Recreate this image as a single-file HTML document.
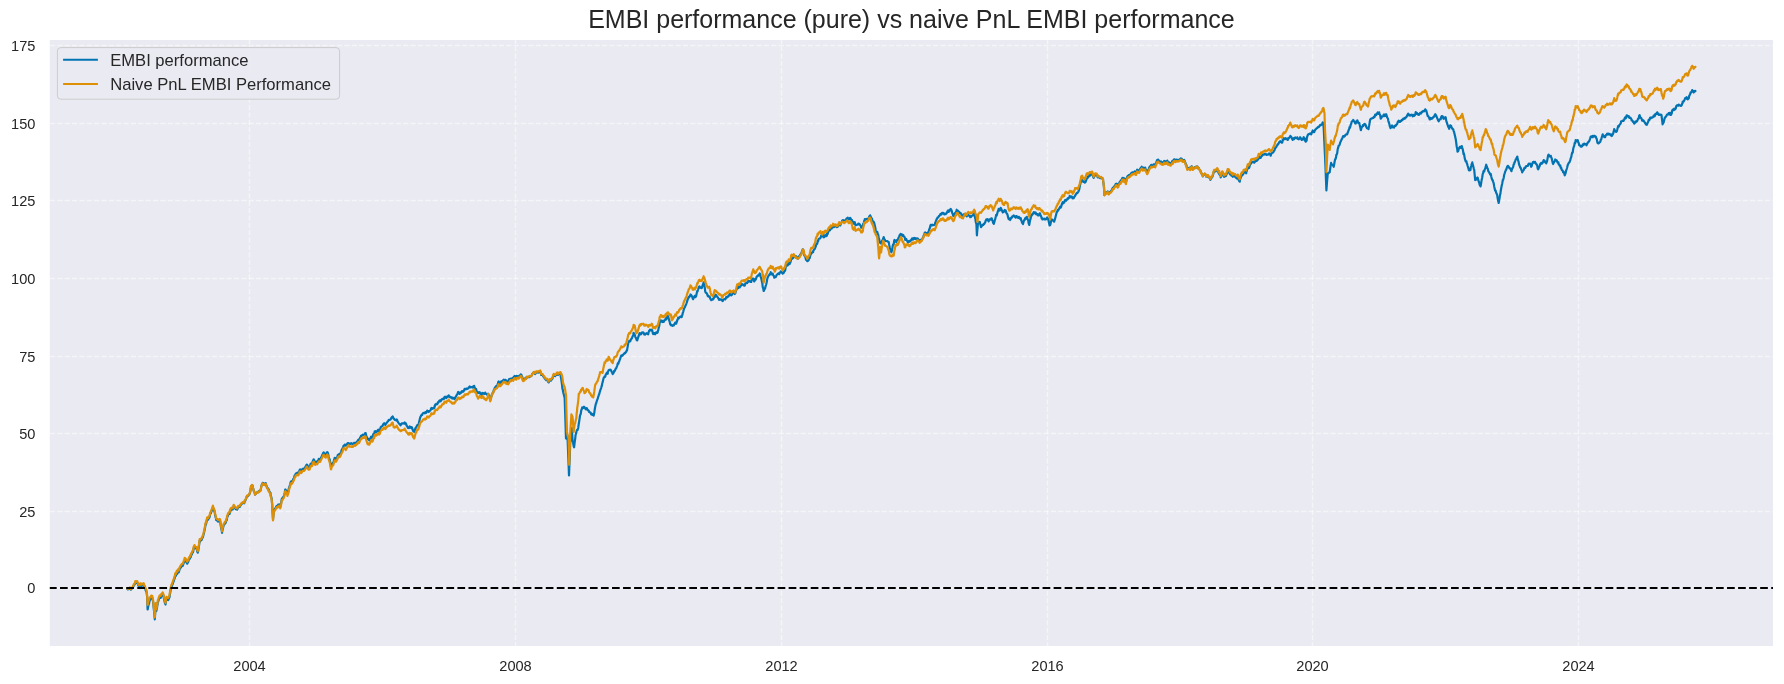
<!DOCTYPE html>
<html><head><meta charset="utf-8"><title>EMBI performance</title>
<style>
html,body{margin:0;padding:0;background:#fff;}
body{width:1784px;height:684px;overflow:hidden;font-family:"Liberation Sans",sans-serif;}
svg{display:block;font-family:"Liberation Sans",sans-serif;}
</style></head><body>
<svg width="1784" height="684" viewBox="0 0 1784 684">
<defs><clipPath id="c"><rect x="49.8" y="40.0" width="1723.2" height="606.0"/></clipPath></defs>
<rect x="49.8" y="40.0" width="1723.2" height="606.0" fill="#EAEAF2"/>
<g clip-path="url(#c)" stroke="#FFFFFF" stroke-width="1.39" stroke-opacity="0.5" stroke-dasharray="5.14 2.22"><line x1="49.95" y1="588.00" x2="1773.0" y2="588.00"/><line x1="49.95" y1="511.50" x2="1773.0" y2="511.50"/><line x1="49.95" y1="433.50" x2="1773.0" y2="433.50"/><line x1="49.95" y1="356.50" x2="1773.0" y2="356.50"/><line x1="49.95" y1="278.50" x2="1773.0" y2="278.50"/><line x1="49.95" y1="200.50" x2="1773.0" y2="200.50"/><line x1="49.95" y1="123.50" x2="1773.0" y2="123.50"/><line x1="49.95" y1="45.50" x2="1773.0" y2="45.50"/><line x1="249.5" y1="647.5" x2="249.5" y2="40.0"/><line x1="515.5" y1="647.5" x2="515.5" y2="40.0"/><line x1="781.5" y1="647.5" x2="781.5" y2="40.0"/><line x1="1047.5" y1="647.5" x2="1047.5" y2="40.0"/><line x1="1312.5" y1="647.5" x2="1312.5" y2="40.0"/><line x1="1578.5" y1="647.5" x2="1578.5" y2="40.0"/></g>
<g clip-path="url(#c)" fill="none" stroke-width="2.2" stroke-linejoin="round" stroke-linecap="round">
<path d="M127.2,588.8 L127.2,588.6 L127.7,589.3 L128.2,589.4 L128.7,588.8 L129.2,588.7 L129.7,588.2 L130.2,588.5 L130.7,589.7 L131.2,589.4 L131.3,589.3 L131.7,588.4 L132.2,588.1 L132.7,587.6 L133.2,587.1 L133.3,586.5 L133.7,585.5 L134.2,584.6 L134.7,584.4 L135.2,582.9 L135.3,582.0 L135.7,583.1 L136.2,582.4 L136.7,582.2 L136.9,582.5 L137.2,582.2 L137.7,583.6 L138.2,584.5 L138.4,585.7 L138.7,585.7 L139.2,586.3 L139.7,586.4 L140.2,584.7 L140.5,585.2 L140.7,584.7 L141.2,585.2 L141.7,585.9 L142.2,585.3 L142.7,585.3 L143.2,584.8 L143.5,585.4 L143.7,584.8 L144.2,586.8 L144.7,587.2 L145.0,588.1 L145.2,588.4 L145.7,590.4 L146.2,591.3 L146.6,592.3 L146.7,593.2 L147.1,596.4 L147.2,599.2 L147.6,609.5 L147.7,609.4 L148.2,606.3 L148.7,604.2 L149.2,603.1 L149.2,602.5 L149.7,600.5 L150.2,599.7 L150.7,598.3 L150.7,598.5 L151.2,597.3 L151.7,598.5 L152.2,598.6 L152.2,597.5 L152.7,600.0 L153.2,602.4 L153.2,602.7 L153.7,607.8 L154.2,612.6 L154.7,618.2 L154.8,619.3 L155.2,613.2 L155.7,606.3 L155.8,604.9 L156.2,610.8 L156.3,611.0 L156.7,609.1 L157.2,606.4 L157.7,603.3 L157.9,601.8 L158.2,601.7 L158.7,599.8 L159.2,598.4 L159.7,597.5 L160.2,597.3 L160.4,596.8 L160.7,597.8 L161.2,596.5 L161.7,595.5 L162.2,595.6 L162.5,594.7 L162.7,594.4 L163.2,595.6 L163.7,597.0 L164.0,598.8 L164.2,599.7 L164.7,602.1 L165.2,603.6 L165.5,604.5 L165.7,603.2 L166.2,599.9 L166.5,598.8 L166.7,599.5 L167.2,599.5 L167.7,599.7 L168.1,599.9 L168.2,600.1 L168.7,599.0 L169.2,597.9 L169.6,596.8 L169.7,595.6 L170.2,592.7 L170.7,589.5 L171.2,587.5 L171.2,587.6 L171.7,586.6 L172.2,585.0 L172.7,584.0 L173.2,582.2 L173.2,582.5 L173.7,581.1 L174.2,579.4 L174.7,578.3 L175.2,575.8 L175.2,575.3 L175.7,576.1 L176.2,574.9 L176.7,573.1 L177.2,572.9 L177.3,573.8 L177.7,571.7 L178.2,571.2 L178.7,572.3 L179.2,570.7 L179.7,569.2 L180.2,568.3 L180.4,568.1 L180.7,567.7 L181.2,566.9 L181.7,566.1 L182.2,565.9 L182.7,565.8 L183.2,564.3 L183.4,564.0 L183.7,563.2 L184.2,561.8 L184.6,560.3 L184.7,559.9 L185.2,560.7 L185.7,560.6 L186.2,561.9 L186.7,562.8 L187.2,563.7 L187.2,562.8 L187.7,562.7 L188.2,562.1 L188.7,560.1 L189.2,559.0 L189.7,559.0 L190.2,557.0 L190.5,557.4 L190.7,557.2 L191.2,554.9 L191.7,554.7 L192.2,553.1 L192.7,552.5 L193.2,551.4 L193.2,551.3 L193.7,548.3 L194.2,547.4 L194.5,546.6 L194.7,547.6 L195.2,548.0 L195.7,548.3 L196.2,548.5 L196.4,548.6 L196.7,548.8 L197.2,551.4 L197.7,552.7 L197.8,552.6 L198.2,550.9 L198.7,547.6 L199.2,544.4 L199.7,540.7 L199.7,542.0 L200.2,541.0 L200.7,540.2 L201.2,540.3 L201.7,539.6 L202.2,538.3 L202.7,537.4 L203.0,536.8 L203.2,535.8 L203.7,534.0 L204.2,531.7 L204.7,529.5 L205.2,526.5 L205.7,523.9 L205.7,524.9 L206.2,523.3 L206.7,521.0 L207.0,519.7 L207.2,518.9 L207.7,518.8 L208.2,519.6 L208.7,518.2 L209.2,517.8 L209.6,517.0 L209.7,516.7 L210.2,514.0 L210.7,513.4 L210.9,513.1 L211.2,512.2 L211.7,511.0 L212.2,509.2 L212.7,508.3 L212.9,507.2 L213.2,508.3 L213.7,509.9 L214.2,510.8 L214.2,511.1 L214.7,512.1 L215.2,515.5 L215.7,517.4 L216.2,520.0 L216.2,519.7 L216.7,520.5 L217.2,520.6 L217.7,520.7 L218.2,521.6 L218.2,521.6 L218.7,521.2 L219.2,520.7 L219.7,520.5 L220.1,521.0 L220.2,521.8 L220.7,525.3 L221.2,528.3 L221.7,530.6 L222.1,532.8 L222.2,531.2 L222.7,529.2 L223.2,527.2 L223.4,526.2 L223.7,525.3 L224.2,524.6 L224.7,523.8 L225.2,523.2 L225.7,522.8 L226.0,521.6 L226.2,520.9 L226.7,520.2 L227.2,517.3 L227.7,515.9 L228.0,515.7 L228.2,514.6 L228.7,513.9 L229.2,514.0 L229.7,513.8 L230.0,511.1 L230.2,511.9 L230.7,509.8 L231.2,510.0 L231.7,509.0 L232.2,509.0 L232.7,509.5 L233.2,508.0 L233.7,506.1 L233.9,507.0 L234.2,506.6 L234.7,507.5 L235.2,508.2 L235.7,509.1 L236.2,509.2 L236.7,508.8 L237.2,509.5 L237.2,509.4 L237.7,508.4 L238.2,506.9 L238.7,507.2 L239.2,506.9 L239.7,507.0 L240.2,506.0 L240.5,505.2 L240.7,505.2 L241.2,504.4 L241.7,503.7 L242.2,503.6 L242.7,502.8 L243.2,502.8 L243.7,502.7 L243.8,503.1 L244.2,503.3 L244.7,501.2 L245.2,500.8 L245.7,499.6 L246.2,498.6 L246.4,497.6 L246.7,496.8 L247.2,496.0 L247.7,496.1 L248.2,495.6 L248.7,495.4 L249.1,494.9 L249.2,494.4 L249.7,493.5 L250.2,491.9 L250.7,488.7 L251.1,486.1 L251.2,487.0 L251.7,486.5 L252.2,485.1 L252.7,486.0 L253.0,488.0 L253.2,488.6 L253.7,490.7 L254.2,491.7 L254.7,492.6 L255.0,494.6 L255.2,494.3 L255.7,493.9 L256.2,493.4 L256.7,492.7 L257.2,492.1 L257.7,492.2 L258.1,491.7 L258.2,492.2 L258.7,492.0 L259.2,491.0 L259.7,491.2 L260.2,490.5 L260.3,490.7 L260.7,489.9 L261.2,486.9 L261.6,485.3 L261.7,484.9 L262.2,484.4 L262.7,482.8 L263.2,483.6 L263.7,484.4 L263.8,483.4 L264.2,483.9 L264.7,484.4 L265.2,484.6 L265.5,483.3 L265.7,483.1 L266.2,484.9 L266.7,486.4 L266.8,486.7 L267.2,487.7 L267.7,488.0 L268.2,488.8 L268.6,490.2 L268.7,489.4 L269.2,491.0 L269.7,491.9 L270.2,492.6 L270.4,492.7 L270.7,495.3 L271.2,496.9 L271.7,498.7 L271.7,498.8 L272.2,504.7 L272.5,511.0 L272.7,513.6 L273.0,519.3 L273.2,517.1 L273.7,512.5 L273.9,510.0 L274.2,510.4 L274.7,509.5 L275.2,508.7 L275.7,507.6 L276.1,507.3 L276.2,506.6 L276.7,505.9 L277.2,506.4 L277.7,506.0 L278.2,505.0 L278.2,504.6 L278.7,504.7 L279.2,504.3 L279.7,505.9 L280.2,506.8 L280.4,506.2 L280.7,505.4 L281.2,502.6 L281.7,499.1 L281.8,499.2 L282.2,498.0 L282.7,498.0 L283.2,497.1 L283.7,496.4 L284.0,495.6 L284.2,495.0 L284.7,492.9 L285.2,489.6 L285.3,489.5 L285.7,490.0 L286.2,490.4 L286.7,492.3 L287.2,492.9 L287.5,494.2 L287.7,493.0 L288.2,492.0 L288.7,489.5 L288.8,488.5 L289.2,487.4 L289.7,485.9 L290.2,484.3 L290.7,482.1 L291.0,482.2 L291.2,481.3 L291.7,482.2 L292.2,481.4 L292.7,480.8 L293.2,479.2 L293.6,478.7 L293.7,478.8 L294.2,477.1 L294.7,475.4 L295.2,475.5 L295.7,473.7 L296.2,473.4 L296.6,473.3 L296.7,473.4 L297.2,472.8 L297.7,472.6 L298.2,473.5 L298.7,472.6 L299.2,471.4 L299.7,469.8 L300.2,469.4 L300.3,470.3 L300.7,470.5 L301.2,471.2 L301.7,470.3 L302.2,469.4 L302.7,468.8 L303.2,468.9 L303.7,468.7 L304.0,468.8 L304.2,468.6 L304.7,468.2 L305.2,467.2 L305.7,466.3 L306.2,465.6 L306.7,464.6 L306.9,465.1 L307.2,464.8 L307.7,466.4 L308.2,467.1 L308.7,467.5 L309.2,466.5 L309.7,467.1 L309.8,466.6 L310.2,465.2 L310.7,463.7 L311.2,464.0 L311.7,464.1 L312.2,463.5 L312.7,461.3 L313.2,460.1 L313.4,460.6 L313.7,459.3 L314.2,460.2 L314.7,462.3 L315.2,462.7 L315.7,462.3 L316.2,461.6 L316.7,461.9 L317.1,462.1 L317.2,462.1 L317.7,460.9 L318.2,460.5 L318.7,459.0 L319.2,459.3 L319.7,459.6 L320.0,459.1 L320.2,459.6 L320.7,458.1 L321.2,457.4 L321.7,456.4 L322.2,455.2 L322.7,454.1 L322.9,453.2 L323.2,453.1 L323.7,452.4 L324.2,453.7 L324.7,454.2 L325.1,454.7 L325.2,454.9 L325.7,455.4 L326.2,453.6 L326.7,452.5 L327.2,452.2 L327.6,452.5 L327.7,452.6 L328.2,454.3 L328.7,457.0 L329.2,458.8 L329.5,459.0 L329.7,460.1 L330.2,462.0 L330.7,465.3 L331.0,467.0 L331.2,466.8 L331.7,464.1 L332.2,463.9 L332.7,463.2 L333.2,462.9 L333.7,461.3 L333.9,460.4 L334.2,459.7 L334.7,457.9 L335.2,459.1 L335.7,458.3 L336.2,459.0 L336.7,457.8 L337.2,457.2 L337.6,455.9 L337.7,455.3 L338.2,454.7 L338.7,455.3 L339.2,454.1 L339.7,454.9 L340.0,454.2 L340.2,454.6 L340.7,452.6 L341.2,451.3 L341.7,449.9 L342.2,449.0 L342.7,447.9 L343.2,446.5 L343.3,446.1 L343.7,446.1 L344.2,445.5 L344.7,444.7 L345.2,444.8 L345.7,445.7 L346.2,444.6 L346.7,444.7 L347.2,444.0 L347.7,443.1 L348.2,443.7 L348.6,443.7 L348.7,443.1 L349.2,444.4 L349.7,443.8 L350.2,444.0 L350.7,443.8 L351.2,443.1 L351.7,443.7 L352.2,443.6 L352.7,444.2 L353.2,444.2 L353.2,443.7 L353.7,443.1 L354.2,442.8 L354.7,442.8 L355.2,443.5 L355.7,442.8 L356.2,442.9 L356.7,441.6 L357.2,442.2 L357.7,441.5 L357.8,441.4 L358.2,439.9 L358.7,439.5 L359.2,440.1 L359.7,438.6 L360.2,437.4 L360.4,437.1 L360.7,436.6 L361.2,435.6 L361.7,436.0 L362.2,435.3 L362.7,434.6 L363.2,435.1 L363.7,434.5 L364.2,434.7 L364.7,433.8 L365.0,433.2 L365.2,433.2 L365.7,433.1 L366.2,435.8 L366.7,436.9 L367.2,438.2 L367.6,439.1 L367.7,438.9 L368.2,438.8 L368.7,438.8 L369.2,440.4 L369.7,439.6 L370.2,438.3 L370.7,437.5 L371.2,436.6 L371.6,437.8 L371.7,437.5 L372.2,437.5 L372.7,436.3 L373.2,434.6 L373.7,433.6 L374.2,434.1 L374.7,431.4 L374.9,431.8 L375.2,431.7 L375.7,431.1 L376.2,432.3 L376.7,431.8 L377.2,431.6 L377.7,430.4 L378.2,429.7 L378.2,431.2 L378.7,430.6 L379.2,431.0 L379.7,430.4 L380.2,429.3 L380.7,427.3 L381.2,426.7 L381.7,426.4 L382.2,426.1 L382.7,425.6 L382.8,425.3 L383.2,424.2 L383.7,423.7 L384.2,423.2 L384.7,423.8 L385.2,424.9 L385.7,424.4 L386.2,423.3 L386.7,422.9 L387.2,422.2 L387.4,422.0 L387.7,421.4 L388.2,421.1 L388.7,419.9 L389.2,420.1 L389.7,419.8 L390.2,419.7 L390.7,419.3 L391.2,418.3 L391.7,417.3 L392.2,416.9 L392.6,416.7 L392.7,416.5 L393.2,417.7 L393.7,418.7 L394.2,418.6 L394.7,419.8 L395.2,419.8 L395.3,420.0 L395.7,420.1 L396.2,420.5 L396.7,419.5 L397.2,420.2 L397.2,420.7 L397.7,421.4 L398.2,422.4 L398.7,423.1 L399.2,423.7 L399.7,424.0 L400.2,424.8 L400.5,425.3 L400.7,424.9 L401.2,424.7 L401.7,423.5 L402.2,423.3 L402.5,423.3 L402.7,423.4 L403.2,423.5 L403.7,423.3 L404.2,423.8 L404.7,422.5 L405.2,422.9 L405.7,423.2 L405.8,423.3 L406.2,424.3 L406.7,425.8 L407.2,426.3 L407.7,427.3 L407.8,427.9 L408.2,427.9 L408.7,428.1 L409.2,428.0 L409.7,426.5 L410.2,426.7 L410.7,427.5 L411.2,428.1 L411.7,428.4 L411.7,427.2 L412.2,428.0 L412.7,429.8 L413.2,431.0 L413.7,430.4 L414.2,432.0 L414.3,431.8 L414.7,430.6 L415.2,428.9 L415.7,427.7 L416.2,427.6 L416.7,426.2 L417.2,425.2 L417.6,425.3 L417.7,425.4 L418.2,425.1 L418.7,423.6 L419.2,421.9 L419.7,419.4 L420.2,417.4 L420.7,416.5 L421.2,415.6 L421.6,414.7 L421.7,414.6 L422.2,414.9 L422.7,413.6 L423.2,413.0 L423.7,413.0 L424.2,412.8 L424.7,413.3 L425.2,413.2 L425.5,412.1 L425.7,412.7 L426.2,412.8 L426.7,411.8 L427.2,410.6 L427.7,411.3 L428.2,411.4 L428.7,412.0 L429.2,411.1 L429.5,410.8 L429.7,411.0 L430.2,410.6 L430.7,409.9 L431.2,408.2 L431.7,407.9 L432.2,408.4 L432.7,408.8 L433.2,408.3 L433.7,408.0 L434.2,408.2 L434.7,405.6 L434.7,406.8 L435.2,404.7 L435.7,404.3 L436.2,403.9 L436.7,404.4 L437.2,404.2 L437.7,403.3 L438.1,402.2 L438.2,402.5 L438.7,402.2 L439.2,401.0 L439.7,400.3 L440.2,400.4 L440.7,401.3 L441.1,400.2 L441.2,400.5 L441.7,399.5 L442.2,398.8 L442.7,399.1 L443.2,398.6 L443.7,399.1 L444.2,397.6 L444.7,396.8 L444.7,397.1 L445.2,396.7 L445.7,397.2 L446.2,398.2 L446.7,397.2 L447.2,396.5 L447.7,396.8 L448.2,396.3 L448.3,396.6 L448.7,395.4 L449.2,396.4 L449.7,396.9 L450.2,397.3 L450.7,396.9 L451.2,397.7 L451.7,397.6 L452.2,398.6 L452.4,397.6 L452.7,398.2 L453.2,397.8 L453.7,398.5 L454.2,398.4 L454.4,399.1 L454.7,398.8 L455.2,398.2 L455.7,396.7 L456.2,396.1 L456.7,394.9 L457.2,394.6 L457.5,394.0 L457.7,393.1 L458.2,392.0 L458.7,392.2 L459.2,393.0 L459.7,393.8 L460.2,393.0 L460.7,392.3 L461.2,392.8 L461.6,391.5 L461.7,392.2 L462.2,391.2 L462.7,391.3 L463.2,391.6 L463.7,391.1 L464.2,389.9 L464.7,388.8 L465.2,389.4 L465.7,388.8 L465.7,389.4 L466.2,388.6 L466.7,388.6 L467.2,388.8 L467.7,388.4 L468.2,388.5 L468.7,387.5 L468.8,387.4 L469.2,387.2 L469.7,386.5 L470.2,387.5 L470.7,387.5 L471.2,387.1 L471.7,387.0 L472.2,387.0 L472.7,387.6 L472.9,386.8 L473.2,386.5 L473.7,386.0 L474.2,385.9 L474.7,387.9 L475.2,388.8 L475.7,388.7 L475.9,388.9 L476.2,389.4 L476.7,391.4 L477.2,391.7 L477.7,392.0 L478.0,393.0 L478.2,393.1 L478.7,392.9 L479.2,393.0 L479.7,392.1 L480.2,393.3 L480.7,394.3 L481.2,394.5 L481.7,394.9 L482.1,393.5 L482.2,392.9 L482.7,393.1 L483.2,393.0 L483.7,393.4 L484.2,394.1 L484.7,393.9 L485.2,392.6 L485.2,393.0 L485.7,393.6 L486.2,393.8 L486.7,394.4 L487.2,394.7 L487.7,394.9 L487.7,395.0 L488.2,393.7 L488.7,395.2 L489.2,396.0 L489.7,397.5 L490.2,399.9 L490.3,398.1 L490.7,399.2 L491.2,396.8 L491.7,395.3 L492.2,393.7 L492.3,394.0 L492.7,392.9 L493.2,392.5 L493.7,390.4 L494.2,390.0 L494.7,388.1 L495.2,387.6 L495.7,386.8 L495.9,386.3 L496.2,386.2 L496.7,386.1 L497.2,385.3 L497.7,384.2 L498.2,382.2 L498.7,381.5 L499.2,382.3 L499.5,382.8 L499.7,383.0 L500.2,383.3 L500.7,382.9 L501.2,381.4 L501.7,381.8 L502.2,381.2 L502.7,380.7 L503.2,380.2 L503.6,379.7 L503.7,380.1 L504.2,380.1 L504.7,380.4 L505.2,379.8 L505.7,379.8 L506.2,381.9 L506.6,381.7 L506.7,382.0 L507.2,381.4 L507.7,381.2 L508.2,381.1 L508.7,379.8 L509.2,379.0 L509.7,379.2 L510.2,378.9 L510.7,378.6 L510.7,378.7 L511.2,379.4 L511.7,378.5 L512.2,378.4 L512.7,377.9 L513.2,378.9 L513.7,377.3 L514.2,376.5 L514.7,375.9 L515.2,376.2 L515.7,376.7 L516.2,377.6 L516.7,376.0 L516.9,376.1 L517.2,376.5 L517.7,376.4 L518.2,376.1 L518.7,377.0 L519.2,376.7 L519.7,375.4 L520.2,375.5 L520.7,374.5 L521.0,375.6 L521.2,374.5 L521.7,375.7 L522.2,376.8 L522.7,379.0 L523.2,379.7 L523.7,379.2 L524.0,379.2 L524.2,379.2 L524.7,378.7 L525.2,378.1 L525.7,378.8 L526.2,378.4 L526.7,376.9 L527.2,377.4 L527.7,377.2 L528.2,377.2 L528.7,377.0 L529.2,377.0 L529.2,377.1 L529.7,376.2 L530.2,376.5 L530.7,376.2 L531.2,375.9 L531.7,375.6 L532.2,374.0 L532.7,373.4 L533.2,372.7 L533.3,373.0 L533.7,372.9 L534.2,372.2 L534.7,373.7 L535.2,374.0 L535.3,372.8 L535.7,373.3 L536.2,372.2 L536.7,372.2 L537.2,372.4 L537.7,372.2 L538.2,372.6 L538.7,372.1 L539.2,372.3 L539.7,371.6 L540.2,371.4 L540.5,372.4 L540.7,372.4 L541.2,375.0 L541.7,374.8 L542.2,375.1 L542.7,375.0 L543.2,376.5 L543.7,376.6 L544.2,377.3 L544.7,378.5 L545.0,378.3 L545.2,378.9 L545.7,379.5 L546.2,380.2 L546.7,379.7 L547.2,379.8 L547.7,380.7 L548.2,381.9 L548.5,382.2 L548.7,382.4 L549.2,380.8 L549.7,380.2 L550.2,380.5 L550.7,380.7 L551.1,380.0 L551.2,380.4 L551.7,379.2 L552.2,379.0 L552.7,377.8 L553.2,376.2 L553.7,374.9 L553.8,376.1 L554.2,375.6 L554.7,375.5 L555.2,376.1 L555.7,375.1 L556.2,375.0 L556.7,374.0 L557.2,373.3 L557.3,374.3 L557.7,374.8 L558.2,374.8 L558.7,373.9 L559.2,373.5 L559.7,373.4 L560.2,374.2 L560.4,373.0 L560.7,376.3 L561.2,378.8 L561.7,382.4 L562.2,386.3 L562.4,388.8 L562.7,389.2 L563.2,392.2 L563.7,394.1 L564.2,396.3 L564.6,397.5 L564.7,399.4 L565.2,414.2 L565.7,430.0 L566.0,438.5 L566.2,438.6 L566.7,437.5 L567.2,436.2 L567.5,435.6 L567.7,441.9 L568.2,454.2 L568.7,467.3 L569.0,475.5 L569.2,470.2 L569.7,457.4 L570.2,443.9 L570.4,438.5 L570.7,436.8 L571.2,433.2 L571.7,429.8 L571.9,428.2 L572.2,434.2 L572.6,441.4 L572.7,441.3 L573.2,443.4 L573.7,446.2 L574.1,447.3 L574.2,446.3 L574.7,442.2 L575.2,438.6 L575.5,435.6 L575.7,434.5 L576.2,433.1 L576.7,430.6 L577.2,429.7 L577.7,429.8 L577.7,429.7 L578.2,428.0 L578.7,424.2 L579.2,421.2 L579.7,417.8 L579.9,416.5 L580.2,415.1 L580.7,414.1 L581.2,410.7 L581.7,409.4 L582.1,407.8 L582.2,407.5 L582.7,408.1 L583.2,408.0 L583.7,406.9 L584.2,406.8 L584.3,407.0 L584.7,407.8 L585.2,408.4 L585.7,409.3 L586.2,409.3 L586.5,409.2 L586.7,408.0 L587.2,409.0 L587.7,409.9 L588.2,410.4 L588.7,410.9 L588.7,410.7 L589.2,412.1 L589.7,412.4 L590.2,412.4 L590.7,412.9 L590.9,413.6 L591.2,414.3 L591.7,413.6 L592.2,414.8 L592.7,414.7 L593.2,414.2 L593.7,415.6 L593.8,415.1 L594.2,413.3 L594.7,409.7 L595.2,406.7 L595.7,404.5 L596.0,403.4 L596.2,403.3 L596.7,401.3 L597.2,399.9 L597.7,398.8 L598.2,396.7 L598.7,395.6 L598.9,394.6 L599.2,394.1 L599.7,392.3 L600.2,390.6 L600.7,389.2 L601.2,387.8 L601.7,385.9 L601.9,385.8 L602.2,383.5 L602.7,382.1 L603.2,379.7 L603.7,377.9 L603.9,377.5 L604.2,377.1 L604.7,376.3 L605.2,376.8 L605.7,374.7 L606.2,374.1 L606.7,372.8 L607.2,373.3 L607.7,373.8 L607.9,371.6 L608.2,371.4 L608.7,370.0 L609.2,369.9 L609.7,369.9 L610.2,370.1 L610.5,369.6 L610.7,369.9 L611.2,370.8 L611.7,371.9 L612.2,372.6 L612.7,374.1 L613.2,373.0 L613.2,373.6 L613.7,372.6 L614.2,370.9 L614.7,370.9 L615.2,370.0 L615.7,368.6 L615.8,368.3 L616.2,368.4 L616.7,367.0 L617.2,365.6 L617.7,363.7 L618.2,362.9 L618.4,363.7 L618.7,362.1 L619.2,361.5 L619.7,359.8 L620.2,358.8 L620.7,357.0 L621.1,355.8 L621.2,355.5 L621.7,355.4 L622.2,355.8 L622.7,355.2 L623.2,354.6 L623.7,354.0 L624.2,353.7 L624.7,352.8 L625.0,353.2 L625.2,353.2 L625.7,352.2 L626.2,351.9 L626.7,350.4 L627.0,350.5 L627.2,349.1 L627.7,346.6 L628.2,343.4 L628.7,342.3 L628.9,341.3 L629.2,340.9 L629.7,341.4 L630.2,341.4 L630.7,339.9 L631.2,338.9 L631.6,338.7 L631.7,338.6 L632.2,337.3 L632.7,336.4 L633.2,335.0 L633.6,332.8 L633.7,333.0 L634.2,334.5 L634.7,334.5 L635.2,336.5 L635.5,337.4 L635.7,337.6 L636.2,338.6 L636.7,340.1 L636.8,340.0 L637.2,340.4 L637.7,339.0 L638.2,337.2 L638.7,336.0 L639.2,333.9 L639.5,334.7 L639.7,333.0 L640.2,334.5 L640.7,333.6 L641.2,334.1 L641.7,332.7 L642.1,332.8 L642.2,332.5 L642.7,332.4 L643.2,332.3 L643.7,333.0 L644.2,334.4 L644.7,334.6 L645.2,334.6 L645.4,334.1 L645.7,333.6 L646.2,333.6 L646.7,333.2 L647.2,333.8 L647.7,333.6 L648.0,333.4 L648.2,334.4 L648.7,331.9 L649.2,330.7 L649.7,330.6 L650.0,329.5 L650.2,330.2 L650.7,330.2 L651.2,330.3 L651.7,329.7 L652.2,330.4 L652.6,332.1 L652.7,332.9 L653.2,334.1 L653.7,333.6 L654.2,333.2 L654.7,333.1 L655.2,334.3 L655.3,334.1 L655.7,333.3 L656.2,332.3 L656.7,332.5 L657.2,332.8 L657.7,332.4 L657.9,330.8 L658.2,330.5 L658.7,327.9 L659.2,326.0 L659.7,322.7 L660.2,321.7 L660.5,321.6 L660.7,320.3 L661.2,320.5 L661.7,321.6 L662.2,322.0 L662.7,320.8 L663.2,321.1 L663.7,321.8 L664.2,321.0 L664.5,320.3 L664.7,320.2 L665.2,319.8 L665.7,318.4 L666.2,319.4 L666.7,317.4 L667.2,316.2 L667.7,315.7 L667.8,316.3 L668.2,316.7 L668.7,318.6 L669.2,320.4 L669.7,321.8 L670.2,324.3 L670.7,324.1 L671.1,325.5 L671.2,325.4 L671.7,325.1 L672.2,325.4 L672.7,325.8 L673.2,325.2 L673.7,324.6 L673.7,325.5 L674.2,324.4 L674.7,323.9 L675.2,322.6 L675.7,323.1 L676.2,323.7 L676.7,321.4 L677.0,321.6 L677.2,320.1 L677.7,319.7 L678.1,317.6 L678.2,318.5 L678.7,318.5 L679.2,317.9 L679.7,317.1 L680.2,316.8 L680.7,316.5 L681.2,317.2 L681.7,317.0 L681.7,316.5 L682.2,315.5 L682.7,313.2 L683.2,311.8 L683.7,309.8 L684.2,308.2 L684.7,307.6 L685.2,306.3 L685.2,306.3 L685.7,305.3 L686.2,304.1 L686.7,302.7 L687.2,301.1 L687.7,299.4 L688.2,298.6 L688.3,298.1 L688.7,296.9 L689.2,297.2 L689.7,296.4 L690.2,295.1 L690.4,294.5 L690.7,294.8 L691.2,295.0 L691.7,296.1 L692.2,296.6 L692.7,298.6 L693.2,299.1 L693.4,298.1 L693.7,297.8 L694.2,297.3 L694.7,295.8 L695.2,296.1 L695.5,297.1 L695.7,296.6 L696.2,295.8 L696.7,293.4 L697.2,291.1 L697.5,291.5 L697.7,290.7 L698.2,289.3 L698.7,287.6 L699.2,286.6 L699.6,286.3 L699.7,286.9 L700.2,287.7 L700.7,287.7 L701.2,287.9 L701.6,287.4 L701.7,288.2 L702.2,286.8 L702.7,285.1 L703.2,284.1 L703.7,282.4 L703.7,283.3 L704.2,284.7 L704.7,287.2 L705.2,291.3 L705.7,292.7 L705.7,292.5 L706.2,293.0 L706.7,293.3 L707.2,294.3 L707.7,296.0 L708.2,296.4 L708.3,295.5 L708.7,296.7 L709.2,296.4 L709.7,296.7 L710.2,298.4 L710.7,299.5 L711.2,299.8 L711.3,300.2 L711.7,299.4 L712.2,299.2 L712.7,299.5 L713.2,298.8 L713.7,298.5 L713.9,297.6 L714.2,296.8 L714.7,295.6 L715.2,296.7 L715.7,294.7 L715.9,295.0 L716.2,295.0 L716.7,296.2 L717.2,296.7 L717.7,297.2 L718.2,298.1 L718.7,299.1 L719.0,299.1 L719.2,300.0 L719.7,299.2 L720.2,299.6 L720.7,299.3 L721.2,299.4 L721.7,300.0 L722.2,300.6 L722.6,301.2 L722.7,301.2 L723.2,299.7 L723.7,299.4 L724.2,299.3 L724.7,299.1 L725.2,299.4 L725.7,298.4 L726.2,297.4 L726.2,297.1 L726.7,297.7 L727.2,296.6 L727.7,296.8 L728.2,296.5 L728.7,296.2 L729.2,294.8 L729.7,294.0 L730.2,293.9 L730.3,295.0 L730.7,294.6 L731.2,295.3 L731.7,294.9 L732.2,294.4 L732.7,293.2 L733.2,293.1 L733.7,292.7 L734.2,293.0 L734.4,293.0 L734.7,294.0 L735.2,293.4 L735.7,291.6 L736.2,290.3 L736.7,288.6 L737.2,287.3 L737.4,288.4 L737.7,288.1 L738.2,288.1 L738.7,286.6 L739.2,286.8 L739.7,287.4 L740.2,286.7 L740.7,285.7 L741.2,284.7 L741.5,285.3 L741.7,284.2 L742.2,284.2 L742.7,284.5 L743.2,284.9 L743.7,285.2 L744.2,285.7 L744.6,284.3 L744.7,285.7 L745.2,283.8 L745.7,283.2 L746.2,283.2 L746.7,282.6 L747.2,283.0 L747.7,282.2 L748.2,280.9 L748.7,281.4 L748.7,281.7 L749.2,281.3 L749.7,281.1 L750.2,281.4 L750.7,281.9 L751.2,282.0 L751.7,279.9 L752.2,279.1 L752.7,278.6 L752.8,279.2 L753.2,278.7 L753.7,279.8 L754.2,281.5 L754.3,281.2 L754.7,280.6 L755.2,278.9 L755.7,279.6 L756.2,278.3 L756.7,276.5 L756.9,276.6 L757.2,276.1 L757.7,276.0 L758.2,275.2 L758.7,275.5 L759.2,274.7 L759.7,273.5 L760.0,273.8 L760.2,274.3 L760.7,276.8 L761.2,278.3 L761.7,280.4 L762.0,282.3 L762.2,282.3 L762.7,286.8 L763.2,288.4 L763.6,290.5 L763.7,291.0 L764.2,289.8 L764.7,288.4 L765.1,288.5 L765.2,287.7 L765.7,285.9 L766.2,284.5 L766.7,282.3 L767.2,279.2 L767.2,279.2 L767.7,277.4 L768.2,276.4 L768.7,275.4 L769.2,275.1 L769.7,274.1 L770.2,273.7 L770.7,273.8 L770.7,272.1 L771.2,274.5 L771.7,274.1 L772.2,273.9 L772.7,273.5 L773.2,275.5 L773.7,275.5 L774.2,277.1 L774.3,277.7 L774.7,276.9 L775.2,277.2 L775.7,277.1 L776.2,276.1 L776.7,275.1 L776.9,274.6 L777.2,274.4 L777.7,274.1 L778.2,273.4 L778.7,273.2 L779.2,274.2 L779.7,272.5 L780.2,272.4 L780.5,272.1 L780.7,271.4 L781.2,271.8 L781.7,272.7 L782.2,272.8 L782.7,273.6 L783.2,272.3 L783.5,273.1 L783.7,273.0 L784.2,271.6 L784.7,271.2 L785.2,270.3 L785.7,267.1 L786.2,265.4 L786.6,265.9 L786.7,264.7 L787.2,265.5 L787.7,265.2 L788.2,264.6 L788.7,262.6 L789.2,263.1 L789.7,264.0 L789.7,262.9 L790.2,262.8 L790.7,261.3 L791.2,258.5 L791.7,257.8 L792.2,258.8 L792.7,258.1 L793.2,257.9 L793.7,257.0 L793.8,255.7 L794.2,255.9 L794.7,256.9 L795.2,256.0 L795.7,256.0 L796.2,256.4 L796.7,257.4 L797.2,258.1 L797.7,258.8 L797.9,257.8 L798.2,258.0 L798.7,256.6 L799.2,256.4 L799.7,255.8 L800.2,254.8 L800.7,254.0 L801.2,253.6 L801.7,252.2 L802.2,250.8 L802.7,249.3 L803.0,250.6 L803.2,250.1 L803.7,252.2 L804.2,255.4 L804.7,255.8 L805.2,256.5 L805.7,258.6 L806.1,259.8 L806.2,259.6 L806.7,259.7 L807.2,261.2 L807.7,261.1 L808.2,260.4 L808.6,260.3 L808.7,259.5 L809.2,258.7 L809.7,258.0 L810.2,255.9 L810.7,254.1 L811.2,253.2 L811.2,253.7 L811.7,253.2 L812.2,252.3 L812.7,252.2 L813.2,252.1 L813.2,251.1 L813.7,250.1 L814.2,249.3 L814.7,249.0 L815.2,247.8 L815.7,245.6 L815.8,246.5 L816.2,244.3 L816.7,243.7 L817.2,243.8 L817.7,240.7 L818.2,241.2 L818.3,240.4 L818.7,238.9 L819.2,238.6 L819.7,238.5 L820.2,238.2 L820.7,237.6 L821.2,235.6 L821.4,235.2 L821.7,235.9 L822.2,235.6 L822.7,234.0 L823.2,236.6 L823.5,237.3 L823.7,236.8 L824.2,237.2 L824.7,235.4 L825.2,235.3 L825.7,235.7 L826.2,236.2 L826.5,234.2 L826.7,235.8 L827.2,234.3 L827.7,233.9 L828.2,232.0 L828.7,230.7 L829.2,230.6 L829.7,229.4 L830.0,230.3 L830.2,228.8 L830.7,227.9 L831.2,228.5 L831.7,228.6 L832.2,227.5 L832.7,227.4 L833.1,225.7 L833.2,226.0 L833.7,226.0 L834.2,227.0 L834.7,226.2 L835.2,226.3 L835.7,225.5 L836.1,226.7 L836.2,225.8 L836.7,227.2 L837.2,226.7 L837.7,226.8 L838.2,225.7 L838.7,224.3 L839.2,223.1 L839.7,223.9 L840.2,225.5 L840.2,224.7 L840.7,224.8 L841.2,223.0 L841.7,222.2 L842.2,220.7 L842.7,220.3 L842.8,220.1 L843.2,220.3 L843.7,220.6 L844.2,221.2 L844.7,220.9 L845.2,220.9 L845.4,220.1 L845.7,219.7 L846.2,219.4 L846.7,218.3 L847.2,218.3 L847.7,217.7 L847.9,218.0 L848.2,218.3 L848.7,219.3 L849.2,218.6 L849.7,218.3 L850.2,217.8 L850.5,219.6 L850.7,218.5 L851.2,220.1 L851.7,220.7 L852.0,220.1 L852.2,220.6 L852.7,222.4 L853.2,221.8 L853.7,223.5 L854.2,223.7 L854.6,224.2 L854.7,222.0 L855.2,224.1 L855.7,225.3 L856.2,224.6 L856.7,224.9 L857.2,224.6 L857.7,224.7 L858.1,224.2 L858.2,223.7 L858.7,223.5 L859.2,223.9 L859.7,224.3 L860.2,225.4 L860.7,225.6 L860.7,225.7 L861.2,227.7 L861.7,227.2 L862.2,227.6 L862.7,226.3 L862.8,226.7 L863.2,223.9 L863.7,223.4 L864.2,221.0 L864.7,219.9 L864.8,219.0 L865.2,219.8 L865.7,219.1 L866.2,219.1 L866.7,218.9 L867.2,218.8 L867.4,219.6 L867.7,219.3 L868.2,219.3 L868.7,218.2 L869.2,216.6 L869.7,215.8 L869.9,216.5 L870.2,215.4 L870.7,216.4 L871.2,218.8 L871.7,219.7 L872.0,218.5 L872.2,220.2 L872.7,221.0 L873.2,221.4 L873.7,221.9 L874.0,222.6 L874.2,222.9 L874.7,225.1 L875.2,227.3 L875.7,230.3 L876.1,231.8 L876.2,232.0 L876.7,232.4 L877.2,231.9 L877.7,233.5 L878.1,234.9 L878.2,234.6 L878.7,237.5 L879.2,239.4 L879.7,241.8 L880.2,242.8 L880.2,243.1 L880.7,242.3 L881.2,243.5 L881.7,241.5 L881.7,242.1 L882.2,240.5 L882.7,240.0 L883.2,238.4 L883.7,237.5 L883.7,237.0 L884.2,239.2 L884.7,239.5 L885.2,240.8 L885.7,241.1 L885.8,241.1 L886.2,241.0 L886.7,241.0 L887.2,241.1 L887.7,241.5 L888.2,241.9 L888.3,242.1 L888.7,241.9 L889.2,244.9 L889.7,247.3 L890.2,249.2 L890.7,250.4 L891.2,251.7 L891.4,252.3 L891.7,251.2 L892.2,249.4 L892.7,245.9 L893.2,244.3 L893.7,244.5 L894.2,240.7 L894.5,240.0 L894.7,240.4 L895.2,240.8 L895.7,240.7 L896.2,242.1 L896.5,241.6 L896.7,240.8 L897.2,239.8 L897.7,240.0 L898.2,238.7 L898.7,237.4 L899.2,236.4 L899.7,235.0 L900.2,235.3 L900.6,233.9 L900.7,233.9 L901.2,235.0 L901.7,234.4 L902.2,235.5 L902.7,236.1 L902.7,234.9 L903.2,235.0 L903.7,236.3 L904.2,236.6 L904.7,237.4 L905.2,239.8 L905.7,239.7 L905.7,240.0 L906.2,239.0 L906.7,240.4 L907.2,240.7 L907.7,242.1 L908.2,242.4 L908.7,241.6 L908.8,242.1 L909.2,240.9 L909.7,241.2 L910.2,241.3 L910.7,240.6 L911.2,239.8 L911.7,239.0 L911.9,239.0 L912.2,238.3 L912.7,239.7 L913.2,239.5 L913.7,238.4 L914.2,237.9 L914.7,238.3 L915.2,239.0 L915.7,239.1 L916.0,238.2 L916.2,238.9 L916.7,239.5 L917.2,238.8 L917.7,238.4 L918.2,239.6 L918.7,239.7 L919.2,240.3 L919.6,241.4 L919.7,241.1 L920.2,240.7 L920.7,239.8 L921.2,240.6 L921.7,240.2 L922.2,239.1 L922.2,238.9 L922.7,238.2 L923.2,237.3 L923.7,235.5 L924.2,234.5 L924.7,233.4 L924.7,232.7 L925.2,232.4 L925.7,233.0 L926.2,233.3 L926.7,233.6 L927.2,232.9 L927.7,233.1 L927.8,233.7 L928.2,232.4 L928.7,231.5 L929.2,229.4 L929.7,228.6 L930.2,226.4 L930.7,224.9 L930.9,225.0 L931.2,225.5 L931.7,224.9 L932.2,224.6 L932.7,225.3 L933.2,225.1 L933.7,225.0 L933.9,225.0 L934.2,224.9 L934.7,225.1 L935.2,222.8 L935.7,221.7 L936.2,220.3 L936.7,219.0 L937.0,218.9 L937.2,218.2 L937.7,217.3 L938.2,217.4 L938.7,216.4 L939.2,215.9 L939.6,215.8 L939.7,215.6 L940.2,214.4 L940.7,213.8 L941.2,214.6 L941.7,214.2 L942.1,212.8 L942.2,213.2 L942.7,213.3 L943.2,212.8 L943.7,213.3 L944.2,214.4 L944.7,214.0 L944.7,214.3 L945.2,213.6 L945.7,214.1 L946.2,213.5 L946.7,213.2 L947.2,212.0 L947.7,210.9 L947.8,211.7 L948.2,210.3 L948.7,211.9 L949.2,211.3 L949.7,210.6 L950.2,209.5 L950.7,208.8 L950.8,209.7 L951.2,209.8 L951.7,210.7 L952.2,213.0 L952.7,213.9 L953.2,215.8 L953.4,215.3 L953.7,215.8 L954.2,215.3 L954.7,213.6 L955.2,212.8 L955.7,212.3 L956.2,211.7 L956.7,209.7 L957.0,210.2 L957.2,210.4 L957.7,210.6 L958.2,211.0 L958.7,211.6 L959.0,211.7 L959.2,212.0 L959.7,213.1 L960.2,212.9 L960.7,213.0 L961.2,214.1 L961.7,215.1 L962.2,215.6 L962.6,215.8 L962.7,215.7 L963.2,214.8 L963.7,214.4 L964.2,215.1 L964.7,213.9 L965.2,214.8 L965.7,215.3 L965.7,214.3 L966.2,215.3 L966.7,216.4 L967.2,215.6 L967.7,214.9 L968.2,214.5 L968.2,215.3 L968.7,215.1 L969.2,215.8 L969.7,216.3 L970.2,217.2 L970.7,216.2 L970.8,216.8 L971.2,216.8 L971.7,215.9 L972.2,215.5 L972.7,215.4 L973.2,214.4 L973.7,213.3 L973.9,213.8 L974.2,213.7 L974.7,215.8 L975.2,218.4 L975.4,218.9 L975.7,221.4 L976.2,223.5 L976.4,224.0 L976.7,230.8 L976.9,235.3 L977.2,231.5 L977.7,226.5 L977.9,224.0 L978.2,222.6 L978.7,223.1 L979.2,222.2 L979.5,222.0 L979.7,221.8 L980.2,223.7 L980.7,225.8 L981.0,227.1 L981.2,226.5 L981.7,226.4 L982.2,225.3 L982.7,225.1 L983.2,225.0 L983.6,224.0 L983.7,223.9 L984.2,224.0 L984.7,223.0 L985.2,222.3 L985.7,220.7 L986.2,219.6 L986.6,219.4 L986.7,219.7 L987.2,219.1 L987.7,220.1 L988.2,220.7 L988.7,221.4 L988.7,220.4 L989.2,219.4 L989.7,219.3 L990.2,219.7 L990.7,219.1 L991.2,219.1 L991.3,218.4 L991.7,218.3 L992.2,220.2 L992.7,221.1 L993.2,223.1 L993.7,223.1 L993.8,224.0 L994.2,222.5 L994.7,220.4 L995.2,219.2 L995.7,216.8 L995.9,216.3 L996.2,214.8 L996.7,215.5 L997.2,213.6 L997.7,211.8 L998.2,210.3 L998.4,210.2 L998.7,208.8 L999.2,209.6 L999.7,210.6 L1000.2,209.5 L1000.5,209.0 L1000.7,207.8 L1001.2,208.8 L1001.7,209.9 L1002.2,211.1 L1002.7,212.5 L1003.1,211.2 L1003.2,212.1 L1003.7,212.0 L1004.2,211.0 L1004.7,209.9 L1005.2,210.9 L1005.7,210.5 L1006.1,211.7 L1006.2,212.5 L1006.7,213.5 L1007.2,213.9 L1007.7,215.5 L1008.2,217.7 L1008.7,219.2 L1008.7,218.3 L1009.2,218.4 L1009.7,218.8 L1010.2,220.0 L1010.2,219.4 L1010.7,218.9 L1011.2,217.6 L1011.7,217.8 L1012.2,217.2 L1012.3,216.3 L1012.7,216.4 L1013.2,216.2 L1013.7,215.5 L1014.2,215.9 L1014.7,216.2 L1015.2,217.1 L1015.7,217.6 L1016.2,216.1 L1016.4,216.8 L1016.7,216.2 L1017.2,216.8 L1017.7,217.0 L1018.2,217.9 L1018.7,217.5 L1018.9,216.8 L1019.2,217.2 L1019.7,218.7 L1020.2,218.7 L1020.7,218.1 L1021.0,219.4 L1021.2,220.2 L1021.7,221.4 L1022.2,222.9 L1022.7,223.5 L1023.0,224.0 L1023.2,223.1 L1023.7,221.3 L1024.2,220.2 L1024.6,219.4 L1024.7,219.9 L1025.2,218.2 L1025.7,218.8 L1026.2,217.8 L1026.7,216.8 L1027.1,217.3 L1027.2,217.7 L1027.7,219.5 L1028.2,220.3 L1028.7,223.5 L1029.2,224.6 L1029.2,225.0 L1029.7,222.2 L1030.2,219.8 L1030.7,218.2 L1031.2,215.3 L1031.2,215.3 L1031.7,215.5 L1032.2,214.2 L1032.7,214.4 L1033.2,213.2 L1033.7,212.1 L1033.8,213.2 L1034.2,213.1 L1034.7,212.8 L1035.2,212.5 L1035.7,213.8 L1035.8,212.7 L1036.2,214.2 L1036.7,213.8 L1037.2,214.7 L1037.7,214.2 L1037.9,215.3 L1038.2,214.9 L1038.7,215.4 L1039.2,214.4 L1039.7,213.4 L1039.9,213.2 L1040.2,214.2 L1040.7,215.6 L1041.2,216.4 L1041.7,218.4 L1042.2,218.2 L1042.5,219.4 L1042.7,218.9 L1043.2,218.9 L1043.7,218.8 L1044.2,219.4 L1044.7,218.6 L1045.0,218.9 L1045.2,219.4 L1045.7,219.4 L1046.2,219.2 L1046.7,218.4 L1047.2,217.5 L1047.6,218.3 L1047.7,218.2 L1048.2,219.3 L1048.7,221.1 L1049.2,223.7 L1049.6,225.5 L1049.7,225.4 L1050.2,225.1 L1050.7,223.1 L1051.2,220.5 L1051.7,219.5 L1051.7,219.9 L1052.2,219.7 L1052.7,220.5 L1053.2,220.4 L1053.7,221.1 L1054.2,221.6 L1054.2,221.4 L1054.7,220.0 L1055.2,218.2 L1055.7,216.3 L1056.2,214.3 L1056.7,212.3 L1056.8,212.2 L1057.2,211.7 L1057.7,210.2 L1058.2,210.5 L1058.7,209.2 L1059.2,208.8 L1059.4,208.1 L1059.7,207.8 L1060.2,206.7 L1060.7,207.7 L1061.2,206.5 L1061.7,204.7 L1062.2,203.2 L1062.4,204.0 L1062.7,202.2 L1063.2,203.3 L1063.7,202.8 L1064.2,202.6 L1064.7,200.8 L1065.0,200.9 L1065.2,200.1 L1065.7,199.9 L1066.2,200.7 L1066.7,199.5 L1067.2,199.4 L1067.6,198.4 L1067.7,199.3 L1068.2,198.2 L1068.7,198.1 L1069.2,197.7 L1069.7,195.9 L1070.1,196.8 L1070.2,196.4 L1070.7,197.3 L1071.2,197.3 L1071.7,196.4 L1072.2,197.7 L1072.7,197.9 L1072.7,198.4 L1073.2,197.9 L1073.7,198.2 L1074.2,196.8 L1074.7,196.6 L1075.2,195.5 L1075.7,194.6 L1075.7,194.8 L1076.2,193.8 L1076.7,193.0 L1077.2,193.2 L1077.7,192.6 L1078.2,191.9 L1078.7,191.0 L1078.8,190.7 L1079.2,189.5 L1079.7,186.8 L1080.2,184.4 L1080.7,182.3 L1080.9,181.5 L1081.2,180.8 L1081.7,180.7 L1082.2,180.0 L1082.7,181.2 L1083.2,181.8 L1083.4,181.5 L1083.7,181.8 L1084.2,181.3 L1084.7,182.6 L1085.2,182.4 L1085.5,182.0 L1085.7,181.6 L1086.2,180.1 L1086.7,178.7 L1087.2,178.4 L1087.7,177.0 L1088.0,176.4 L1088.2,177.5 L1088.7,176.1 L1089.2,176.1 L1089.7,174.8 L1090.0,175.4 L1090.2,175.5 L1090.7,174.6 L1091.2,173.8 L1091.7,174.0 L1092.2,174.4 L1092.2,173.0 L1092.7,175.3 L1093.2,176.8 L1093.7,177.5 L1093.7,178.0 L1094.2,176.6 L1094.7,175.8 L1095.2,174.6 L1095.2,174.4 L1095.7,174.6 L1096.2,174.8 L1096.7,174.7 L1097.2,175.7 L1097.7,177.4 L1097.8,176.3 L1098.2,176.4 L1098.7,176.9 L1099.2,177.1 L1099.7,178.0 L1100.2,177.9 L1100.4,178.1 L1100.7,178.1 L1101.2,177.4 L1101.7,178.2 L1102.2,178.6 L1102.7,178.7 L1102.9,178.6 L1103.2,181.4 L1103.7,184.9 L1103.9,186.1 L1104.2,190.6 L1104.4,195.1 L1104.7,194.2 L1105.2,193.6 L1105.7,192.9 L1106.2,192.8 L1106.5,192.1 L1106.7,193.1 L1107.2,192.0 L1107.7,191.4 L1108.2,192.6 L1108.5,192.4 L1108.7,193.7 L1109.2,193.2 L1109.7,192.2 L1110.2,191.7 L1110.7,191.6 L1111.1,191.1 L1111.2,190.6 L1111.7,190.5 L1112.2,189.2 L1112.7,188.0 L1113.2,188.3 L1113.7,187.2 L1113.7,187.7 L1114.2,186.3 L1114.7,185.9 L1115.2,185.4 L1115.7,184.0 L1115.7,184.0 L1116.2,184.2 L1116.7,183.7 L1117.2,185.3 L1117.7,186.0 L1118.2,185.1 L1118.3,185.6 L1118.7,183.9 L1119.2,183.0 L1119.7,182.0 L1120.2,182.4 L1120.7,182.2 L1120.8,180.4 L1121.2,181.0 L1121.7,180.1 L1122.2,178.3 L1122.7,178.0 L1122.9,178.8 L1123.2,178.0 L1123.7,180.1 L1124.2,180.2 L1124.4,178.3 L1124.7,179.4 L1125.2,180.4 L1125.7,182.0 L1125.9,182.4 L1126.2,180.9 L1126.7,178.8 L1127.2,176.8 L1127.5,176.3 L1127.7,176.1 L1128.2,175.9 L1128.7,175.2 L1129.2,175.8 L1129.7,175.3 L1130.0,174.6 L1130.2,175.0 L1130.7,173.9 L1131.2,173.2 L1131.7,173.8 L1132.2,172.4 L1132.7,172.4 L1133.1,172.6 L1133.2,172.7 L1133.7,172.3 L1134.2,172.3 L1134.7,171.3 L1135.2,172.4 L1135.7,173.2 L1136.2,173.2 L1136.2,172.1 L1136.7,171.3 L1137.2,169.7 L1137.7,170.0 L1138.2,171.0 L1138.7,170.8 L1138.7,170.4 L1139.2,171.0 L1139.7,169.7 L1140.2,168.8 L1140.7,168.0 L1141.2,167.7 L1141.3,167.4 L1141.7,166.7 L1142.2,167.6 L1142.7,168.9 L1143.2,168.4 L1143.7,167.7 L1144.2,168.2 L1144.4,167.9 L1144.7,168.5 L1145.2,167.7 L1145.7,169.2 L1146.2,170.2 L1146.7,170.8 L1146.9,171.9 L1147.2,172.4 L1147.7,171.6 L1148.2,170.1 L1148.7,169.3 L1149.2,167.7 L1149.5,167.3 L1149.7,166.5 L1150.2,166.5 L1150.7,165.7 L1151.2,164.8 L1151.7,165.6 L1152.2,165.4 L1152.6,165.2 L1152.7,165.3 L1153.2,164.9 L1153.7,164.4 L1154.2,164.9 L1154.7,164.4 L1155.2,165.5 L1155.6,163.6 L1155.7,164.2 L1156.2,163.0 L1156.7,161.1 L1157.2,160.0 L1157.7,159.8 L1158.2,160.4 L1158.2,159.5 L1158.7,160.5 L1159.2,161.1 L1159.7,161.4 L1160.2,161.6 L1160.7,161.4 L1161.2,162.3 L1161.7,161.9 L1161.8,162.7 L1162.2,162.6 L1162.7,162.9 L1163.2,162.6 L1163.7,162.0 L1164.2,160.9 L1164.7,162.4 L1164.8,162.3 L1165.2,161.2 L1165.7,162.3 L1166.2,162.3 L1166.7,161.5 L1166.9,161.3 L1167.2,160.6 L1167.7,161.6 L1168.2,163.2 L1168.7,162.5 L1169.2,162.4 L1169.7,163.2 L1170.0,163.8 L1170.2,163.3 L1170.7,164.2 L1171.2,162.9 L1171.7,162.8 L1172.2,161.2 L1172.7,162.5 L1173.1,160.7 L1173.2,161.5 L1173.7,159.7 L1174.2,159.6 L1174.7,159.3 L1175.2,160.8 L1175.7,160.3 L1176.1,160.3 L1176.2,159.8 L1176.7,159.7 L1177.2,160.4 L1177.7,159.9 L1178.2,160.2 L1178.7,160.2 L1179.2,159.6 L1179.7,159.4 L1180.2,159.2 L1180.2,159.0 L1180.7,158.5 L1181.2,159.6 L1181.7,158.7 L1182.2,159.8 L1182.7,160.8 L1183.2,160.7 L1183.7,160.2 L1184.2,159.9 L1184.3,160.7 L1184.7,161.0 L1185.2,162.5 L1185.7,163.7 L1186.2,165.4 L1186.4,164.9 L1186.7,166.5 L1187.2,168.7 L1187.4,169.1 L1187.7,168.1 L1188.2,168.3 L1188.7,168.4 L1189.2,167.9 L1189.7,168.9 L1190.0,167.7 L1190.2,169.4 L1190.7,167.2 L1191.2,167.3 L1191.7,166.2 L1192.2,167.2 L1192.7,169.4 L1193.2,168.9 L1193.5,168.5 L1193.7,168.5 L1194.2,167.7 L1194.7,167.2 L1195.2,167.3 L1195.7,167.9 L1196.2,166.5 L1196.6,166.6 L1196.7,167.2 L1197.2,166.5 L1197.7,166.9 L1198.2,168.1 L1198.7,168.9 L1198.7,167.8 L1199.2,169.2 L1199.7,169.7 L1200.2,170.4 L1200.7,171.5 L1200.7,172.0 L1201.2,173.5 L1201.7,173.4 L1202.2,174.5 L1202.7,175.7 L1202.8,176.3 L1203.2,175.4 L1203.7,174.8 L1204.2,174.7 L1204.7,174.0 L1204.8,173.8 L1205.2,174.5 L1205.7,175.1 L1206.2,176.7 L1206.3,175.4 L1206.7,175.2 L1207.2,176.3 L1207.7,176.3 L1207.9,175.5 L1208.2,176.9 L1208.7,177.4 L1209.2,177.1 L1209.7,178.0 L1210.2,178.6 L1210.4,179.8 L1210.7,179.1 L1211.2,177.3 L1211.7,177.8 L1212.0,176.9 L1212.2,177.1 L1212.7,175.8 L1213.2,174.1 L1213.7,172.2 L1214.0,171.3 L1214.2,170.9 L1214.7,170.8 L1215.2,171.2 L1215.7,171.4 L1216.2,170.3 L1216.7,170.0 L1217.1,170.5 L1217.2,169.3 L1217.7,170.0 L1218.2,172.2 L1218.7,173.4 L1219.1,172.1 L1219.2,174.1 L1219.7,174.6 L1220.2,175.4 L1220.7,176.1 L1220.7,177.4 L1221.2,175.7 L1221.7,173.9 L1222.2,172.7 L1222.2,172.9 L1222.7,173.3 L1223.2,174.4 L1223.7,176.5 L1224.2,176.9 L1224.2,176.6 L1224.7,176.4 L1225.2,175.6 L1225.7,176.2 L1226.2,175.4 L1226.3,174.7 L1226.7,174.1 L1227.2,172.6 L1227.7,170.9 L1228.2,170.8 L1228.7,172.3 L1228.9,171.2 L1229.2,171.8 L1229.7,173.4 L1230.2,174.4 L1230.7,174.2 L1231.2,175.0 L1231.4,175.5 L1231.7,175.3 L1232.2,175.0 L1232.7,176.8 L1233.2,175.5 L1233.7,175.9 L1234.0,176.1 L1234.2,176.3 L1234.7,176.0 L1235.2,176.4 L1235.7,177.4 L1236.2,177.8 L1236.5,177.8 L1236.7,178.1 L1237.2,178.6 L1237.7,176.8 L1238.2,178.1 L1238.7,180.0 L1239.2,180.9 L1239.6,180.1 L1239.7,181.7 L1240.2,179.1 L1240.7,177.8 L1241.2,176.1 L1241.6,175.6 L1241.7,174.9 L1242.2,175.5 L1242.7,174.6 L1243.2,174.3 L1243.7,172.5 L1243.7,173.0 L1244.2,172.3 L1244.7,172.5 L1245.2,172.1 L1245.7,171.8 L1246.2,173.3 L1246.3,172.1 L1246.7,171.2 L1247.2,169.1 L1247.7,167.2 L1247.8,168.6 L1248.2,167.2 L1248.7,168.1 L1249.2,167.6 L1249.7,166.0 L1249.8,165.6 L1250.2,164.3 L1250.7,164.0 L1251.2,162.1 L1251.7,162.2 L1251.9,162.1 L1252.2,162.4 L1252.7,161.9 L1253.2,161.9 L1253.7,161.9 L1254.2,162.7 L1254.4,161.6 L1254.7,161.3 L1255.0,161.0 L1255.2,161.7 L1255.7,161.2 L1256.2,160.5 L1256.7,160.8 L1257.2,160.5 L1257.7,159.6 L1258.1,159.5 L1258.2,158.1 L1258.7,156.6 L1259.2,157.1 L1259.7,158.0 L1260.2,157.8 L1260.7,157.9 L1261.2,156.7 L1261.7,155.9 L1262.2,155.7 L1262.2,154.9 L1262.7,154.9 L1263.2,154.4 L1263.7,154.7 L1264.2,154.5 L1264.7,153.8 L1265.2,154.2 L1265.7,153.9 L1266.2,154.8 L1266.3,154.4 L1266.7,154.8 L1267.2,154.6 L1267.7,154.7 L1268.2,154.5 L1268.7,153.8 L1269.2,153.5 L1269.7,154.2 L1270.2,154.8 L1270.4,154.4 L1270.7,155.7 L1271.2,154.0 L1271.7,153.4 L1272.2,152.8 L1272.7,152.7 L1273.2,152.3 L1273.4,152.3 L1273.7,151.2 L1274.2,150.7 L1274.7,149.8 L1275.2,147.8 L1275.7,147.8 L1276.2,147.3 L1276.5,146.2 L1276.7,145.8 L1277.2,145.6 L1277.7,144.1 L1278.2,144.2 L1278.7,143.4 L1279.1,142.1 L1279.2,142.1 L1279.7,141.8 L1280.2,141.2 L1280.7,141.7 L1281.2,142.2 L1281.7,142.7 L1282.2,142.7 L1282.6,141.1 L1282.7,139.9 L1283.2,139.8 L1283.7,138.2 L1284.2,138.4 L1284.7,139.2 L1285.2,139.0 L1285.7,138.4 L1285.7,138.0 L1286.2,138.8 L1286.7,139.2 L1287.2,139.4 L1287.7,139.4 L1287.8,140.0 L1288.2,138.2 L1288.7,138.3 L1289.2,137.5 L1289.7,137.4 L1290.2,136.2 L1290.3,135.9 L1290.7,136.4 L1291.2,136.8 L1291.7,137.8 L1292.2,139.0 L1292.7,139.8 L1292.9,139.5 L1293.2,139.3 L1293.7,138.2 L1294.2,139.0 L1294.7,138.2 L1295.2,137.5 L1295.7,138.0 L1295.9,138.0 L1296.2,138.2 L1296.7,138.1 L1297.2,137.3 L1297.7,138.8 L1298.2,139.0 L1298.7,139.3 L1299.2,139.1 L1299.7,137.9 L1300.0,138.0 L1300.2,137.2 L1300.7,138.1 L1301.2,139.1 L1301.7,139.8 L1302.2,139.5 L1302.7,138.7 L1303.1,139.5 L1303.2,138.6 L1303.7,137.2 L1304.2,137.8 L1304.7,138.6 L1305.2,140.9 L1305.7,141.6 L1306.2,141.1 L1306.7,140.3 L1306.7,139.0 L1307.2,136.5 L1307.7,135.3 L1308.2,134.4 L1308.7,134.3 L1309.2,133.8 L1309.2,133.9 L1309.7,133.8 L1310.2,133.4 L1310.7,133.6 L1311.2,134.3 L1311.7,132.9 L1312.2,132.0 L1312.7,130.5 L1313.2,131.4 L1313.3,131.8 L1313.7,132.1 L1314.2,132.1 L1314.7,130.6 L1315.2,130.0 L1315.7,129.2 L1316.2,128.8 L1316.7,128.2 L1317.2,128.0 L1317.4,127.8 L1317.7,127.2 L1318.2,127.4 L1318.7,127.1 L1319.2,126.3 L1319.7,125.7 L1320.0,125.5 L1320.2,124.9 L1320.7,125.3 L1321.2,124.7 L1321.7,124.7 L1322.2,124.0 L1322.7,122.4 L1323.2,123.0 L1323.2,122.8 L1323.7,128.4 L1323.8,130.0 L1324.2,139.0 L1324.7,150.3 L1325.1,157.6 L1325.2,160.4 L1325.7,172.7 L1326.2,185.2 L1326.4,190.5 L1326.7,186.3 L1327.2,179.7 L1327.7,174.4 L1327.8,173.4 L1328.2,172.9 L1328.7,173.1 L1329.2,172.5 L1329.7,172.3 L1329.7,172.1 L1330.2,168.5 L1330.7,165.3 L1331.1,162.9 L1331.2,163.4 L1331.7,164.3 L1332.2,164.8 L1332.7,164.8 L1333.2,165.8 L1333.7,166.7 L1333.7,166.8 L1334.2,164.2 L1334.7,161.2 L1335.2,159.1 L1335.7,158.8 L1336.2,156.3 L1336.3,155.0 L1336.7,154.7 L1337.2,153.1 L1337.7,149.2 L1338.2,147.7 L1338.7,145.6 L1338.9,145.8 L1339.2,145.5 L1339.7,144.4 L1340.2,142.6 L1340.7,141.4 L1341.2,140.5 L1341.6,139.2 L1341.7,139.2 L1342.2,138.7 L1342.7,137.0 L1343.2,136.1 L1343.7,136.0 L1344.2,136.7 L1344.7,136.3 L1345.0,135.8 L1345.2,135.2 L1345.7,134.8 L1346.2,134.3 L1346.7,134.5 L1347.2,134.2 L1347.6,132.7 L1347.7,132.8 L1348.2,131.3 L1348.7,130.0 L1349.2,129.0 L1349.6,127.1 L1349.7,128.2 L1350.2,127.0 L1350.7,124.8 L1351.2,123.8 L1351.7,121.8 L1352.2,121.3 L1352.7,120.7 L1352.7,120.9 L1353.2,119.9 L1353.7,120.7 L1354.2,121.6 L1354.7,121.8 L1355.2,123.3 L1355.2,123.0 L1355.7,123.6 L1356.2,121.5 L1356.7,121.3 L1357.2,120.7 L1357.3,120.4 L1357.7,121.3 L1358.2,122.8 L1358.7,122.9 L1359.2,123.3 L1359.3,123.0 L1359.7,124.9 L1360.2,126.9 L1360.7,129.6 L1360.9,130.2 L1361.2,128.9 L1361.7,127.2 L1362.2,126.8 L1362.7,125.9 L1362.9,125.0 L1363.2,126.0 L1363.7,124.8 L1364.2,124.2 L1364.7,123.8 L1365.0,124.5 L1365.2,124.4 L1365.7,125.1 L1366.2,126.7 L1366.7,127.6 L1367.0,128.1 L1367.2,128.1 L1367.7,128.3 L1368.2,128.9 L1368.5,129.1 L1368.7,127.4 L1369.2,125.2 L1369.7,122.4 L1370.1,119.9 L1370.2,119.7 L1370.7,119.0 L1371.2,118.5 L1371.7,118.5 L1372.2,118.4 L1372.6,117.9 L1372.7,117.8 L1373.2,117.8 L1373.7,117.0 L1374.2,117.3 L1374.7,116.7 L1375.2,114.5 L1375.7,115.2 L1375.7,114.8 L1376.2,115.0 L1376.7,113.8 L1377.2,113.5 L1377.7,112.5 L1378.2,114.0 L1378.7,114.0 L1379.2,112.4 L1379.3,112.8 L1379.7,114.1 L1380.2,115.3 L1380.7,118.6 L1380.8,117.4 L1381.2,118.2 L1381.7,116.5 L1382.2,116.7 L1382.7,116.3 L1383.2,116.3 L1383.7,114.6 L1383.9,115.8 L1384.2,115.0 L1384.7,116.2 L1385.2,114.5 L1385.7,115.2 L1386.2,114.3 L1386.5,115.3 L1386.7,116.2 L1387.2,117.5 L1387.7,118.1 L1388.0,118.9 L1388.2,120.2 L1388.7,122.2 L1389.2,123.4 L1389.7,125.8 L1390.2,127.2 L1390.5,128.1 L1390.7,126.5 L1391.2,127.5 L1391.7,126.7 L1392.1,125.5 L1392.2,126.1 L1392.7,127.3 L1393.2,126.8 L1393.7,126.5 L1394.1,127.6 L1394.2,126.7 L1394.7,125.9 L1395.2,125.5 L1395.7,125.9 L1396.2,124.9 L1396.2,125.0 L1396.7,124.5 L1397.2,124.0 L1397.7,122.1 L1398.2,121.4 L1398.2,121.5 L1398.7,120.6 L1399.2,121.4 L1399.7,121.9 L1400.2,121.9 L1400.7,120.8 L1401.2,120.8 L1401.3,120.9 L1401.7,119.9 L1402.2,120.2 L1402.7,119.8 L1403.2,118.6 L1403.7,118.8 L1404.2,118.9 L1404.4,118.4 L1404.7,117.9 L1405.2,118.4 L1405.7,117.7 L1406.2,117.0 L1406.7,116.7 L1407.2,115.4 L1407.7,114.5 L1408.2,113.7 L1408.5,114.8 L1408.7,114.4 L1409.2,115.4 L1409.7,114.8 L1410.2,115.6 L1410.7,114.9 L1411.2,114.7 L1411.7,115.1 L1412.2,114.8 L1412.6,115.3 L1412.7,116.4 L1413.2,116.1 L1413.7,114.9 L1414.2,115.8 L1414.7,115.2 L1415.2,114.8 L1415.7,112.2 L1416.2,112.6 L1416.6,113.8 L1416.7,113.0 L1417.2,113.3 L1417.7,113.9 L1418.2,114.8 L1418.7,114.3 L1419.2,114.6 L1419.7,113.8 L1419.7,113.8 L1420.2,112.9 L1420.7,113.4 L1421.2,113.3 L1421.7,111.9 L1422.2,111.9 L1422.7,111.5 L1422.8,111.2 L1423.2,111.0 L1423.7,111.4 L1424.2,111.2 L1424.7,110.1 L1425.2,109.3 L1425.7,110.6 L1425.9,110.2 L1426.2,110.4 L1426.7,112.2 L1427.2,114.1 L1427.7,116.0 L1427.9,115.8 L1428.2,116.2 L1428.7,116.9 L1429.2,117.9 L1429.7,119.4 L1430.0,119.5 L1430.2,119.3 L1430.7,118.0 L1431.2,118.3 L1431.7,118.8 L1432.2,118.6 L1432.7,117.8 L1432.9,117.7 L1433.2,117.4 L1433.7,116.6 L1434.2,116.7 L1434.7,115.1 L1435.2,114.5 L1435.3,114.2 L1435.7,115.2 L1436.2,115.5 L1436.7,117.0 L1437.2,118.2 L1437.7,119.1 L1438.2,120.6 L1438.7,120.4 L1438.8,121.3 L1439.2,119.9 L1439.7,119.6 L1440.2,119.1 L1440.7,119.2 L1441.1,117.2 L1441.2,117.4 L1441.7,116.0 L1442.2,116.1 L1442.7,116.4 L1443.2,118.2 L1443.7,118.8 L1444.2,117.8 L1444.7,118.2 L1445.2,117.2 L1445.2,117.7 L1445.7,117.4 L1446.2,120.7 L1446.7,122.1 L1447.2,123.7 L1447.5,124.8 L1447.7,125.0 L1448.2,126.8 L1448.7,127.4 L1449.2,128.8 L1449.3,127.7 L1449.7,127.3 L1450.2,125.3 L1450.7,125.6 L1451.1,125.9 L1451.2,126.5 L1451.7,127.7 L1452.2,128.5 L1452.7,129.2 L1453.2,129.2 L1453.7,131.1 L1454.0,131.8 L1454.2,132.6 L1454.7,134.7 L1455.2,136.7 L1455.7,139.2 L1455.7,138.8 L1456.2,142.7 L1456.7,146.5 L1457.2,148.9 L1457.5,151.7 L1457.7,150.6 L1458.2,151.0 L1458.7,149.2 L1459.2,147.9 L1459.7,147.3 L1459.8,147.0 L1460.2,147.6 L1460.7,147.9 L1461.2,146.4 L1461.7,146.7 L1461.8,146.1 L1462.2,147.6 L1462.7,149.2 L1463.2,151.8 L1463.5,154.2 L1463.7,153.1 L1464.2,154.8 L1464.7,158.2 L1465.2,159.8 L1465.7,161.4 L1466.2,161.8 L1466.4,161.3 L1466.7,162.9 L1467.2,164.2 L1467.7,166.0 L1468.2,167.6 L1468.7,169.6 L1468.8,170.0 L1469.2,170.4 L1469.7,170.2 L1470.2,169.4 L1470.5,170.0 L1470.7,167.6 L1471.2,166.1 L1471.7,164.1 L1472.2,162.9 L1472.3,162.4 L1472.7,164.7 L1473.2,166.1 L1473.7,168.3 L1474.0,169.4 L1474.2,169.7 L1474.7,175.2 L1475.2,180.1 L1475.2,178.8 L1475.7,179.9 L1476.2,178.9 L1476.7,179.0 L1477.2,177.6 L1477.5,178.2 L1477.7,177.7 L1478.2,179.9 L1478.7,181.5 L1479.2,182.7 L1479.7,185.0 L1480.2,185.5 L1480.5,186.4 L1480.7,185.8 L1481.2,182.9 L1481.7,179.7 L1482.2,177.5 L1482.7,174.1 L1483.2,173.0 L1483.4,171.8 L1483.7,170.9 L1484.2,171.4 L1484.7,169.5 L1485.2,168.7 L1485.7,166.9 L1486.2,164.7 L1486.3,165.4 L1486.7,166.0 L1487.2,168.0 L1487.7,168.5 L1488.2,170.8 L1488.7,171.6 L1488.7,171.8 L1489.2,172.4 L1489.7,173.4 L1490.2,174.5 L1490.7,173.9 L1491.0,175.3 L1491.2,176.3 L1491.7,178.4 L1492.2,179.8 L1492.7,180.7 L1492.7,180.0 L1493.2,181.8 L1493.7,183.4 L1494.2,186.4 L1494.7,188.7 L1495.1,190.5 L1495.2,190.1 L1495.7,190.7 L1496.2,192.9 L1496.7,193.7 L1496.8,194.0 L1497.2,195.2 L1497.7,198.6 L1498.2,201.3 L1498.6,202.2 L1498.7,203.0 L1499.2,200.4 L1499.7,197.1 L1500.2,194.1 L1500.4,194.0 L1500.7,191.2 L1501.2,188.2 L1501.7,185.8 L1502.2,183.5 L1502.7,180.9 L1502.7,180.0 L1503.2,179.8 L1503.7,177.7 L1504.2,174.7 L1504.7,173.3 L1505.2,171.6 L1505.6,170.6 L1505.7,170.3 L1506.2,169.7 L1506.7,168.2 L1507.2,166.7 L1507.7,166.0 L1508.0,165.9 L1508.2,166.1 L1508.7,166.7 L1509.2,167.9 L1509.7,168.5 L1510.2,168.3 L1510.7,168.9 L1511.2,170.8 L1511.5,171.2 L1511.7,169.8 L1512.2,168.7 L1512.7,167.7 L1513.2,166.8 L1513.7,164.3 L1514.2,163.9 L1514.4,162.4 L1514.7,162.4 L1515.2,161.0 L1515.7,159.5 L1516.2,158.8 L1516.7,157.9 L1517.2,156.7 L1517.3,156.6 L1517.7,159.2 L1518.2,160.7 L1518.7,162.1 L1519.1,164.8 L1519.2,164.6 L1519.7,166.0 L1520.2,167.7 L1520.7,167.7 L1521.2,169.4 L1521.7,170.6 L1522.0,171.2 L1522.2,172.4 L1522.7,171.1 L1523.2,170.7 L1523.7,170.0 L1524.2,168.4 L1524.7,167.6 L1525.2,168.0 L1525.5,167.7 L1525.7,167.1 L1526.2,166.0 L1526.7,166.0 L1527.2,165.9 L1527.7,166.0 L1528.2,164.7 L1528.7,163.9 L1529.0,163.6 L1529.2,164.1 L1529.7,163.8 L1530.2,163.7 L1530.7,164.9 L1531.2,166.8 L1531.3,164.8 L1531.7,166.1 L1532.2,163.9 L1532.7,162.7 L1533.2,161.9 L1533.7,161.9 L1534.2,162.6 L1534.7,162.3 L1534.9,161.8 L1535.2,162.5 L1535.7,163.6 L1536.2,163.7 L1536.7,164.7 L1537.2,165.3 L1537.7,168.5 L1537.9,168.1 L1538.2,169.3 L1538.7,168.1 L1539.2,166.9 L1539.7,165.9 L1540.2,164.2 L1540.7,163.4 L1540.8,164.0 L1541.2,162.9 L1541.7,163.7 L1542.2,163.4 L1542.7,162.7 L1543.2,161.4 L1543.7,160.2 L1543.8,161.1 L1544.2,160.5 L1544.7,160.9 L1545.2,162.3 L1545.7,162.3 L1546.1,162.8 L1546.2,163.3 L1546.7,162.1 L1547.2,160.6 L1547.7,157.6 L1548.2,155.0 L1548.5,155.8 L1548.7,154.7 L1549.2,155.9 L1549.7,156.2 L1550.2,156.7 L1550.7,156.1 L1550.8,155.8 L1551.2,157.1 L1551.7,158.3 L1552.2,160.8 L1552.7,162.8 L1553.1,164.0 L1553.2,163.9 L1553.7,162.7 L1554.2,162.0 L1554.7,161.2 L1555.2,159.5 L1555.5,159.9 L1555.7,160.1 L1556.2,160.3 L1556.7,160.4 L1557.2,161.7 L1557.7,162.6 L1558.2,163.0 L1558.4,162.3 L1558.7,164.3 L1559.2,164.7 L1559.7,165.6 L1560.2,165.3 L1560.7,167.9 L1560.7,167.5 L1561.2,167.8 L1561.7,169.8 L1562.2,170.4 L1562.7,170.5 L1563.1,172.2 L1563.2,171.3 L1563.7,172.2 L1564.2,173.3 L1564.7,175.3 L1564.8,175.0 L1565.2,174.1 L1565.7,172.8 L1566.0,171.0 L1566.2,170.4 L1566.7,169.0 L1567.2,167.3 L1567.7,165.1 L1567.7,165.2 L1568.2,164.1 L1568.7,163.1 L1569.2,162.3 L1569.7,161.9 L1570.1,160.5 L1570.2,160.5 L1570.7,158.2 L1571.2,157.3 L1571.7,154.6 L1572.2,152.6 L1572.4,152.3 L1572.7,152.6 L1573.2,148.8 L1573.7,147.0 L1574.2,145.9 L1574.7,142.9 L1575.2,143.2 L1575.4,141.8 L1575.7,140.0 L1576.2,140.5 L1576.7,141.2 L1577.2,141.2 L1577.7,140.6 L1577.7,140.0 L1578.2,142.3 L1578.7,142.9 L1579.2,145.2 L1579.4,145.3 L1579.7,145.2 L1580.2,145.4 L1580.7,146.7 L1581.2,146.1 L1581.7,146.2 L1581.8,146.5 L1582.2,146.1 L1582.7,144.5 L1583.2,145.1 L1583.7,145.0 L1584.1,143.5 L1584.2,143.5 L1584.7,144.2 L1585.2,144.1 L1585.7,144.2 L1586.2,144.8 L1586.5,145.3 L1586.7,144.2 L1587.2,144.0 L1587.7,142.6 L1588.2,142.4 L1588.7,141.5 L1589.2,141.2 L1589.7,139.9 L1590.0,138.9 L1590.2,138.4 L1590.7,136.7 L1591.2,136.3 L1591.7,136.3 L1592.2,137.1 L1592.7,137.2 L1592.9,135.9 L1593.2,136.7 L1593.7,136.0 L1594.2,135.9 L1594.7,135.8 L1595.2,136.8 L1595.7,137.4 L1595.8,136.5 L1596.2,138.0 L1596.7,138.9 L1597.2,141.6 L1597.6,143.0 L1597.7,143.1 L1598.2,142.6 L1598.7,143.3 L1599.2,142.7 L1599.7,142.3 L1600.2,141.9 L1600.5,141.2 L1600.7,139.9 L1601.2,139.6 L1601.7,137.5 L1602.2,136.0 L1602.7,134.4 L1602.8,134.8 L1603.2,135.4 L1603.7,136.2 L1604.2,137.0 L1604.7,136.4 L1605.2,137.0 L1605.2,137.1 L1605.7,135.3 L1606.2,134.9 L1606.7,134.5 L1607.2,133.7 L1607.7,134.5 L1608.1,133.6 L1608.2,134.1 L1608.7,134.3 L1609.2,134.3 L1609.7,133.9 L1610.2,134.6 L1610.7,135.3 L1611.0,134.8 L1611.2,134.4 L1611.7,135.7 L1611.8,136.0 L1612.2,135.2 L1612.7,134.5 L1613.2,133.5 L1613.7,131.1 L1614.1,130.2 L1614.2,129.2 L1614.7,130.8 L1615.2,131.4 L1615.7,130.9 L1616.2,131.9 L1616.4,130.8 L1616.7,131.5 L1617.2,129.8 L1617.7,127.8 L1618.2,126.1 L1618.7,125.9 L1618.8,126.7 L1619.2,125.4 L1619.7,124.6 L1620.2,124.0 L1620.7,123.6 L1621.1,121.4 L1621.2,121.4 L1621.7,121.4 L1622.2,121.1 L1622.7,120.5 L1623.2,120.6 L1623.5,120.8 L1623.7,120.4 L1624.2,119.7 L1624.7,118.2 L1625.2,117.3 L1625.7,118.3 L1626.2,116.8 L1626.4,116.1 L1626.7,115.3 L1627.2,115.5 L1627.7,116.0 L1628.2,116.7 L1628.7,116.1 L1628.7,116.1 L1629.2,117.7 L1629.7,117.9 L1630.2,117.7 L1630.7,118.1 L1631.2,118.7 L1631.6,120.2 L1631.7,119.9 L1632.2,120.7 L1632.7,121.0 L1633.2,122.1 L1633.7,122.5 L1634.2,123.7 L1634.6,122.6 L1634.7,123.0 L1635.2,121.7 L1635.7,122.3 L1636.2,121.3 L1636.7,121.1 L1636.9,121.4 L1637.2,120.8 L1637.7,119.7 L1638.2,118.5 L1638.7,118.6 L1639.2,115.6 L1639.7,115.2 L1639.8,116.1 L1640.2,117.1 L1640.7,117.6 L1641.2,118.1 L1641.7,119.0 L1642.2,120.8 L1642.2,119.6 L1642.7,120.2 L1643.2,120.6 L1643.7,120.7 L1644.2,121.6 L1644.7,122.3 L1645.1,122.6 L1645.2,123.4 L1645.7,123.8 L1646.2,124.6 L1646.7,124.9 L1646.8,124.9 L1647.2,123.8 L1647.7,122.7 L1648.2,121.8 L1648.7,119.9 L1649.2,120.3 L1649.7,119.1 L1649.8,118.5 L1650.2,117.7 L1650.7,118.4 L1651.2,117.5 L1651.7,117.7 L1652.2,117.6 L1652.7,117.3 L1652.7,117.3 L1653.2,116.9 L1653.7,115.8 L1654.2,115.2 L1654.7,116.3 L1655.2,114.2 L1655.6,113.8 L1655.7,113.8 L1656.2,114.2 L1656.7,113.3 L1657.2,112.3 L1657.7,113.9 L1658.2,113.4 L1658.7,114.9 L1659.1,114.4 L1659.2,114.9 L1659.7,114.5 L1660.2,114.5 L1660.7,114.6 L1661.2,115.3 L1661.5,115.0 L1661.7,116.9 L1662.2,120.9 L1662.6,124.3 L1662.7,123.8 L1663.2,123.2 L1663.7,122.3 L1664.2,120.0 L1664.7,118.1 L1665.0,117.3 L1665.2,117.5 L1665.7,116.8 L1666.2,116.3 L1666.7,115.2 L1667.2,114.4 L1667.7,114.2 L1668.2,114.2 L1668.5,114.4 L1668.7,113.2 L1669.2,113.9 L1669.7,112.8 L1670.2,114.7 L1670.7,114.9 L1671.2,114.7 L1671.4,112.6 L1671.7,113.5 L1672.2,110.5 L1672.7,109.7 L1673.2,109.3 L1673.7,110.2 L1674.2,108.7 L1674.3,109.1 L1674.7,109.6 L1675.2,108.8 L1675.7,108.7 L1676.2,106.2 L1676.7,105.8 L1677.2,105.1 L1677.3,105.6 L1677.7,105.6 L1678.2,105.7 L1678.7,104.6 L1679.2,105.0 L1679.7,105.2 L1680.2,105.5 L1680.2,105.6 L1680.7,105.8 L1681.2,105.9 L1681.7,105.2 L1682.2,103.4 L1682.6,103.2 L1682.7,101.6 L1683.2,101.7 L1683.7,101.4 L1684.2,100.6 L1684.7,99.4 L1685.2,98.2 L1685.3,98.0 L1685.7,97.9 L1686.2,97.6 L1686.7,97.2 L1687.2,99.1 L1687.7,99.4 L1688.2,99.0 L1688.7,97.9 L1688.8,98.4 L1689.2,95.9 L1689.7,95.0 L1690.2,94.1 L1690.5,92.7 L1690.7,92.9 L1691.2,92.5 L1691.7,91.5 L1692.2,90.1 L1692.3,91.4 L1692.7,90.8 L1693.2,90.8 L1693.7,92.5 L1694.2,91.5 L1694.7,91.0 L1695.2,91.4 L1695.4,91.0" stroke="#0173B2"/>
<path d="M127.2,588.3 L127.2,588.1 L127.7,588.8 L128.2,588.8 L128.7,588.2 L129.2,588.1 L129.7,587.5 L130.2,587.8 L130.7,589.0 L131.2,588.7 L131.3,588.6 L131.7,587.7 L132.2,587.3 L132.7,586.8 L133.2,586.2 L133.3,585.6 L133.7,584.6 L134.2,583.7 L134.7,583.5 L135.2,581.9 L135.3,581.0 L135.7,582.1 L136.2,581.4 L136.7,581.2 L136.9,581.5 L137.2,581.1 L137.7,582.5 L138.2,583.3 L138.4,584.6 L138.7,584.6 L139.2,585.1 L139.7,585.2 L140.2,583.5 L140.5,584.0 L140.7,583.4 L141.2,583.9 L141.7,584.6 L142.2,583.9 L142.7,583.9 L143.2,583.4 L143.5,584.0 L143.7,583.3 L144.2,585.3 L144.7,585.7 L145.0,586.6 L145.2,586.9 L145.7,588.9 L146.2,589.7 L146.6,590.7 L146.7,591.6 L147.1,594.8 L147.2,597.0 L147.6,605.0 L147.7,604.9 L148.2,602.1 L148.7,600.3 L149.2,599.5 L149.2,598.9 L149.7,597.5 L150.2,597.3 L150.7,596.6 L150.7,596.8 L151.2,595.6 L151.7,596.8 L152.2,596.8 L152.2,595.8 L152.7,598.2 L153.2,600.6 L153.2,600.9 L153.7,605.9 L154.2,610.7 L154.7,616.2 L154.8,617.3 L155.2,611.2 L155.7,604.4 L155.8,603.0 L156.2,608.9 L156.3,609.1 L156.7,607.2 L157.2,604.5 L157.7,601.3 L157.9,599.9 L158.2,599.7 L158.7,597.8 L159.2,596.5 L159.7,595.5 L160.2,595.3 L160.4,594.8 L160.7,595.8 L161.2,594.5 L161.7,593.5 L162.2,593.6 L162.5,592.7 L162.7,592.4 L163.2,593.6 L163.7,595.0 L164.0,596.8 L164.2,597.7 L164.7,600.3 L165.2,602.0 L165.5,603.0 L165.7,601.6 L166.2,598.1 L166.5,596.8 L166.7,597.5 L167.2,597.5 L167.7,597.7 L168.1,597.9 L168.2,598.1 L168.7,597.0 L169.2,595.9 L169.6,594.8 L169.7,593.6 L170.2,590.7 L170.7,587.5 L171.2,585.5 L171.2,585.6 L171.7,584.6 L172.2,583.0 L172.7,582.0 L173.2,580.2 L173.2,580.5 L173.7,579.1 L174.2,577.4 L174.7,576.3 L175.2,573.8 L175.2,573.3 L175.7,574.1 L176.2,572.9 L176.7,571.1 L177.2,570.9 L177.3,571.8 L177.7,569.7 L178.2,569.2 L178.7,570.3 L179.2,568.7 L179.7,567.2 L180.2,566.3 L180.4,566.1 L180.7,565.7 L181.2,564.9 L181.7,564.1 L182.2,563.9 L182.7,563.8 L183.2,562.3 L183.4,562.0 L183.7,561.2 L184.2,559.8 L184.6,558.3 L184.7,557.9 L185.2,558.7 L185.7,558.6 L186.2,560.0 L186.7,560.9 L187.2,561.8 L187.2,560.9 L187.7,560.8 L188.2,560.3 L188.7,558.3 L189.2,557.2 L189.7,557.2 L190.2,555.2 L190.5,555.7 L190.7,555.5 L191.2,553.2 L191.7,553.0 L192.2,551.4 L192.7,550.9 L193.2,549.8 L193.2,549.7 L193.7,546.7 L194.2,545.9 L194.5,545.1 L194.7,546.1 L195.2,546.5 L195.7,546.8 L196.2,547.0 L196.4,547.1 L196.7,547.3 L197.2,549.9 L197.7,551.2 L197.8,551.1 L198.2,549.4 L198.7,546.1 L199.2,542.9 L199.7,539.2 L199.7,540.5 L200.2,539.5 L200.7,538.7 L201.2,538.8 L201.7,538.1 L202.2,536.8 L202.7,535.9 L203.0,535.3 L203.2,534.3 L203.7,532.5 L204.2,530.2 L204.7,528.0 L205.2,525.0 L205.7,522.4 L205.7,523.4 L206.2,521.8 L206.7,519.5 L207.0,518.2 L207.2,517.4 L207.7,517.3 L208.2,518.1 L208.7,516.7 L209.2,516.3 L209.6,515.5 L209.7,515.2 L210.2,512.5 L210.7,511.9 L210.9,511.6 L211.2,510.7 L211.7,509.5 L212.2,507.7 L212.7,506.8 L212.9,505.7 L213.2,506.8 L213.7,508.4 L214.2,509.3 L214.2,509.6 L214.7,510.6 L215.2,514.0 L215.7,515.9 L216.2,518.5 L216.2,518.2 L216.7,519.0 L217.2,519.1 L217.7,519.2 L218.2,520.1 L218.2,520.1 L218.7,519.7 L219.2,519.2 L219.7,519.0 L220.1,519.5 L220.2,520.3 L220.7,523.8 L221.2,526.8 L221.7,529.1 L222.1,531.3 L222.2,529.7 L222.7,527.7 L223.2,525.7 L223.4,524.7 L223.7,523.8 L224.2,523.1 L224.7,522.3 L225.2,521.7 L225.7,521.3 L226.0,520.1 L226.2,519.4 L226.7,518.7 L227.2,515.8 L227.7,514.4 L228.0,514.2 L228.2,513.1 L228.7,512.4 L229.2,512.5 L229.7,512.3 L230.0,509.6 L230.2,510.4 L230.7,508.3 L231.2,508.5 L231.7,507.6 L232.2,507.6 L232.7,508.2 L233.2,506.6 L233.7,504.8 L233.9,505.7 L234.2,505.4 L234.7,506.3 L235.2,507.0 L235.7,507.9 L236.2,508.1 L236.7,507.7 L237.2,508.4 L237.2,508.3 L237.7,507.4 L238.2,505.9 L238.7,506.2 L239.2,505.9 L239.7,506.1 L240.2,505.1 L240.5,504.3 L240.7,504.4 L241.2,503.6 L241.7,502.9 L242.2,502.9 L242.7,502.1 L243.2,502.1 L243.7,502.1 L243.8,502.4 L244.2,502.7 L244.7,500.5 L245.2,500.2 L245.7,499.1 L246.2,498.0 L246.4,497.1 L246.7,496.3 L247.2,495.5 L247.7,495.7 L248.2,495.2 L248.7,495.0 L249.1,494.5 L249.2,494.1 L249.7,493.2 L250.2,491.6 L250.7,488.4 L251.1,485.9 L251.2,486.8 L251.7,486.3 L252.2,485.0 L252.7,485.9 L253.0,487.9 L253.2,488.5 L253.7,490.7 L254.2,491.7 L254.7,492.6 L255.0,494.6 L255.2,494.3 L255.7,494.0 L256.2,493.5 L256.7,492.9 L257.2,492.3 L257.7,492.4 L258.1,491.9 L258.2,492.4 L258.7,492.3 L259.2,491.3 L259.7,491.5 L260.2,490.8 L260.3,491.1 L260.7,490.3 L261.2,487.3 L261.6,485.8 L261.7,485.4 L262.2,484.9 L262.7,483.3 L263.2,484.2 L263.7,484.9 L263.8,484.0 L264.2,484.5 L264.7,485.1 L265.2,485.3 L265.5,484.0 L265.7,483.8 L266.2,485.6 L266.7,487.2 L266.8,487.5 L267.2,488.5 L267.7,488.9 L268.2,489.6 L268.6,491.1 L268.7,490.3 L269.2,491.9 L269.7,492.8 L270.2,493.5 L270.4,493.7 L270.7,496.3 L271.2,498.0 L271.7,499.8 L271.7,499.8 L272.2,505.7 L272.5,512.1 L272.7,514.7 L273.0,520.4 L273.2,518.2 L273.7,513.7 L273.9,511.2 L274.2,511.6 L274.7,510.7 L275.2,510.0 L275.7,508.9 L276.1,508.6 L276.2,507.9 L276.7,507.2 L277.2,507.7 L277.7,507.4 L278.2,506.4 L278.2,506.0 L278.7,506.1 L279.2,505.7 L279.7,507.4 L280.2,508.3 L280.4,507.7 L280.7,506.9 L281.2,504.1 L281.7,500.7 L281.8,500.7 L282.2,499.5 L282.7,499.6 L283.2,498.7 L283.7,498.0 L284.0,497.2 L284.2,496.6 L284.7,494.5 L285.2,491.2 L285.3,491.1 L285.7,491.6 L286.2,492.1 L286.7,493.9 L287.2,494.5 L287.5,495.9 L287.7,494.7 L288.2,493.7 L288.7,491.2 L288.8,490.2 L289.2,489.2 L289.7,487.7 L290.2,486.1 L290.7,483.8 L291.0,484.0 L291.2,483.1 L291.7,484.0 L292.2,483.2 L292.7,482.6 L293.2,481.0 L293.6,480.5 L293.7,480.7 L294.2,479.0 L294.7,477.3 L295.2,477.4 L295.7,475.6 L296.2,475.3 L296.6,475.2 L296.7,475.3 L297.2,474.7 L297.7,474.6 L298.2,475.4 L298.7,474.6 L299.2,473.4 L299.7,471.8 L300.2,471.4 L300.3,472.3 L300.7,472.5 L301.2,473.2 L301.7,472.4 L302.2,471.4 L302.7,470.8 L303.2,470.9 L303.7,470.8 L304.0,470.9 L304.2,470.6 L304.7,470.2 L305.2,469.3 L305.7,468.4 L306.2,467.6 L306.7,466.7 L306.9,467.2 L307.2,466.9 L307.7,468.5 L308.2,469.2 L308.7,469.7 L309.2,468.6 L309.7,469.3 L309.8,468.7 L310.2,467.3 L310.7,465.8 L311.2,466.1 L311.7,466.3 L312.2,465.7 L312.7,463.5 L313.2,462.2 L313.4,462.8 L313.7,461.5 L314.2,462.3 L314.7,464.5 L315.2,464.9 L315.7,464.5 L316.2,463.8 L316.7,464.1 L317.1,464.3 L317.2,464.3 L317.7,463.1 L318.2,462.7 L318.7,461.3 L319.2,461.6 L319.7,461.8 L320.0,461.4 L320.2,461.8 L320.7,460.3 L321.2,459.6 L321.7,458.6 L322.2,457.5 L322.7,456.4 L322.9,455.5 L323.2,455.4 L323.7,454.7 L324.2,456.0 L324.7,456.5 L325.1,457.0 L325.2,457.2 L325.7,457.7 L326.2,455.9 L326.7,454.9 L327.2,454.5 L327.6,454.8 L327.7,455.0 L328.2,456.7 L328.7,459.3 L329.2,461.2 L329.5,461.4 L329.7,462.4 L330.2,464.4 L330.7,467.7 L331.0,469.4 L331.2,469.1 L331.7,466.5 L332.2,466.3 L332.7,465.6 L333.2,465.3 L333.7,463.7 L333.9,462.8 L334.2,462.1 L334.7,460.3 L335.2,461.5 L335.7,460.8 L336.2,461.5 L336.7,460.2 L337.2,459.7 L337.6,458.4 L337.7,457.8 L338.2,457.0 L338.7,457.5 L339.2,456.2 L339.7,456.8 L340.2,456.7 L340.5,455.5 L340.7,455.3 L341.2,454.1 L341.7,453.0 L342.2,452.3 L342.7,451.4 L342.7,451.1 L343.2,448.9 L343.3,448.3 L343.7,448.7 L344.2,448.6 L344.7,448.2 L345.2,448.8 L345.7,450.2 L345.9,449.6 L346.2,449.0 L346.7,448.6 L347.2,447.4 L347.7,446.0 L348.2,446.1 L348.6,445.7 L348.7,445.2 L349.2,446.7 L349.7,446.3 L350.2,446.7 L350.7,446.7 L351.2,446.2 L351.7,447.0 L351.8,447.0 L352.2,446.7 L352.7,447.0 L353.2,446.6 L353.7,445.5 L354.2,445.2 L354.7,445.1 L355.1,445.0 L355.2,445.8 L355.7,445.0 L356.2,445.0 L356.7,443.7 L357.2,444.2 L357.7,443.5 L358.2,442.2 L358.4,443.0 L358.7,442.2 L359.2,442.9 L359.7,441.5 L360.2,440.4 L360.7,439.5 L361.1,439.1 L361.2,438.3 L361.7,438.7 L362.2,438.1 L362.7,437.5 L363.2,438.0 L363.7,437.5 L364.2,437.8 L364.7,436.9 L365.0,436.4 L365.2,436.5 L365.7,436.8 L366.2,440.0 L366.7,441.4 L367.2,443.0 L367.6,444.3 L367.7,444.1 L368.2,443.7 L368.7,443.5 L369.2,444.8 L369.7,443.8 L370.2,442.3 L370.7,441.3 L370.9,441.7 L371.2,440.2 L371.7,441.0 L372.2,441.7 L372.7,441.0 L372.9,440.4 L373.2,439.3 L373.7,437.9 L374.2,438.0 L374.7,434.8 L374.9,435.1 L375.2,435.0 L375.7,434.4 L376.2,435.6 L376.7,435.1 L377.2,434.9 L377.7,433.7 L378.2,433.0 L378.2,434.5 L378.7,434.0 L379.2,434.4 L379.7,433.9 L380.2,432.8 L380.7,430.8 L381.2,430.3 L381.7,430.1 L382.1,429.9 L382.2,429.9 L382.7,429.7 L383.2,428.4 L383.7,427.8 L384.2,427.4 L384.7,428.0 L385.2,429.1 L385.7,428.6 L386.1,427.2 L386.2,427.6 L386.7,427.4 L387.2,426.8 L387.7,426.2 L388.2,426.2 L388.7,425.4 L389.2,425.9 L389.3,425.9 L389.7,425.6 L390.2,425.5 L390.7,425.1 L391.2,424.2 L391.7,423.1 L392.2,422.8 L392.6,422.6 L392.7,422.6 L393.2,425.0 L393.7,427.2 L393.9,427.2 L394.2,427.1 L394.7,427.6 L395.2,426.9 L395.7,426.7 L396.2,426.9 L396.6,426.6 L396.7,425.7 L397.2,426.8 L397.7,427.9 L398.2,428.8 L398.7,429.4 L399.2,429.9 L399.7,430.1 L400.2,430.8 L400.5,431.2 L400.7,430.9 L401.2,431.0 L401.7,430.0 L402.2,430.1 L402.7,430.2 L403.2,430.0 L403.7,429.6 L404.2,429.8 L404.5,429.2 L404.7,428.6 L405.2,429.8 L405.7,430.7 L406.2,431.6 L406.7,432.6 L407.2,432.6 L407.7,433.1 L408.2,434.3 L408.4,434.5 L408.7,434.7 L409.2,434.6 L409.7,432.9 L410.2,433.1 L410.7,433.7 L411.2,434.2 L411.7,434.4 L411.7,433.2 L412.2,434.1 L412.7,436.0 L413.2,437.3 L413.7,436.8 L414.2,438.6 L414.3,438.4 L414.7,436.8 L415.2,434.7 L415.7,432.9 L416.2,432.3 L416.3,432.5 L416.7,430.7 L417.2,429.6 L417.7,429.7 L418.2,429.6 L418.7,428.3 L418.9,426.6 L419.2,426.9 L419.7,424.7 L420.2,423.0 L420.7,422.5 L421.2,421.9 L421.6,421.3 L421.7,421.2 L422.2,421.4 L422.7,420.1 L423.2,419.4 L423.7,419.3 L424.2,419.1 L424.7,419.5 L424.9,418.7 L425.2,419.5 L425.7,418.9 L426.2,418.9 L426.7,417.8 L427.2,416.5 L427.7,417.0 L428.2,417.1 L428.7,417.5 L429.2,416.4 L429.5,416.1 L429.7,416.3 L430.2,415.9 L430.7,415.2 L431.2,413.5 L431.7,413.2 L432.1,414.1 L432.2,413.7 L432.7,414.1 L433.2,413.6 L433.7,413.3 L434.2,413.5 L434.7,410.9 L434.7,412.1 L435.2,410.1 L435.7,409.8 L436.2,409.6 L436.7,410.1 L437.2,410.0 L437.7,409.3 L438.1,408.3 L438.2,408.6 L438.7,408.3 L439.2,407.1 L439.7,406.4 L440.2,406.5 L440.7,407.4 L441.1,406.3 L441.2,406.5 L441.7,405.3 L442.2,404.4 L442.7,404.5 L443.2,403.7 L443.7,404.0 L444.2,402.2 L444.2,402.2 L444.7,401.8 L445.2,401.5 L445.7,401.9 L446.2,402.8 L446.7,401.6 L447.2,400.9 L447.7,401.0 L448.2,400.4 L448.3,400.7 L448.7,399.6 L449.2,400.7 L449.7,401.3 L450.2,401.8 L450.7,401.6 L451.2,402.5 L451.4,402.2 L451.7,402.5 L452.2,403.7 L452.7,403.3 L453.2,402.9 L453.7,403.5 L453.9,403.7 L454.2,402.7 L454.7,402.8 L455.2,402.4 L455.7,401.0 L456.2,400.5 L456.5,400.2 L456.7,399.6 L457.2,399.8 L457.7,398.6 L458.2,397.5 L458.7,397.6 L459.2,398.5 L459.6,398.1 L459.7,399.2 L460.2,398.5 L460.7,397.9 L461.2,398.3 L461.7,397.8 L462.2,396.8 L462.6,396.6 L462.7,396.9 L463.2,397.2 L463.7,396.7 L464.2,395.5 L464.7,394.4 L465.2,395.0 L465.7,394.4 L465.7,395.0 L466.2,394.2 L466.7,394.2 L467.2,394.5 L467.7,394.1 L468.2,394.3 L468.3,393.5 L468.7,393.2 L469.2,392.6 L469.7,391.6 L470.2,392.3 L470.7,392.0 L470.8,391.5 L471.2,391.4 L471.7,391.3 L472.2,391.3 L472.7,391.8 L473.2,390.4 L473.4,390.9 L473.7,389.7 L474.2,389.6 L474.7,391.6 L475.2,392.4 L475.7,392.3 L475.9,392.5 L476.2,393.3 L476.7,395.7 L477.2,396.5 L477.7,397.3 L478.0,398.6 L478.2,398.4 L478.7,397.7 L479.2,397.3 L479.7,395.8 L480.0,396.6 L480.2,396.6 L480.7,397.6 L481.2,397.8 L481.7,398.0 L482.2,396.0 L482.7,396.3 L483.1,396.6 L483.2,396.4 L483.7,397.4 L484.2,398.8 L484.7,399.2 L485.2,398.7 L485.7,399.8 L486.2,400.2 L486.2,400.2 L486.7,399.4 L487.2,398.2 L487.7,397.1 L488.2,394.2 L488.2,396.1 L488.7,395.9 L489.2,397.0 L489.7,398.8 L490.2,401.3 L490.3,399.6 L490.7,400.4 L491.2,397.6 L491.7,395.8 L492.2,393.8 L492.3,394.0 L492.7,393.1 L493.2,393.0 L493.7,391.0 L494.2,390.9 L494.7,389.2 L495.2,389.0 L495.4,388.9 L495.7,388.7 L496.2,388.4 L496.7,388.4 L497.2,387.6 L497.7,386.7 L498.2,384.7 L498.5,386.3 L498.7,384.1 L499.2,385.0 L499.7,385.9 L500.2,386.2 L500.7,385.8 L501.2,384.4 L501.5,384.3 L501.7,384.7 L502.2,383.9 L502.7,383.1 L503.2,382.4 L503.6,381.7 L503.7,382.1 L504.2,382.2 L504.7,382.5 L505.2,382.1 L505.6,383.3 L505.7,382.0 L506.2,383.8 L506.7,383.8 L507.2,383.7 L507.7,384.0 L508.2,384.3 L508.7,383.4 L508.7,383.8 L509.2,382.1 L509.7,381.8 L510.2,381.0 L510.7,380.1 L510.7,380.2 L511.2,381.0 L511.7,380.2 L512.2,380.2 L512.7,379.7 L513.2,380.8 L513.7,379.3 L514.2,378.6 L514.7,378.1 L514.8,379.2 L515.2,378.4 L515.7,378.8 L516.2,379.7 L516.7,378.1 L517.2,378.4 L517.7,378.1 L517.9,377.6 L518.2,377.7 L518.7,378.6 L519.2,378.2 L519.7,377.0 L520.2,377.0 L520.7,376.0 L521.0,377.1 L521.2,376.0 L521.7,377.2 L522.2,378.3 L522.7,380.5 L523.2,381.2 L523.7,380.7 L524.0,380.7 L524.2,380.6 L524.7,379.8 L525.2,378.9 L525.7,379.2 L526.2,378.6 L526.7,376.8 L527.1,377.6 L527.2,377.1 L527.7,376.8 L528.2,376.8 L528.7,376.5 L529.2,376.4 L529.7,375.9 L530.2,376.5 L530.2,376.1 L530.7,376.2 L531.2,375.9 L531.7,375.6 L532.2,374.0 L532.7,373.4 L533.2,372.7 L533.3,373.0 L533.7,372.8 L534.2,371.8 L534.7,373.1 L535.2,373.2 L535.3,372.0 L535.7,372.5 L536.2,371.4 L536.7,371.3 L537.2,371.6 L537.7,371.3 L538.2,371.7 L538.7,371.2 L539.2,371.4 L539.7,370.7 L540.2,370.5 L540.5,371.4 L540.7,371.4 L541.2,374.0 L541.7,373.8 L542.2,374.1 L542.7,374.0 L543.2,375.5 L543.7,375.6 L544.2,376.3 L544.7,377.5 L545.0,377.3 L545.2,377.9 L545.7,378.5 L546.2,379.2 L546.7,378.7 L547.2,378.8 L547.7,379.7 L548.2,380.9 L548.5,381.2 L548.7,381.4 L549.2,379.8 L549.7,379.2 L550.2,379.5 L550.7,379.7 L551.1,379.0 L551.2,379.4 L551.7,378.2 L552.2,378.0 L552.7,376.8 L553.2,375.2 L553.7,373.9 L553.8,375.1 L554.2,374.6 L554.7,374.5 L555.2,375.1 L555.7,374.1 L556.2,374.0 L556.7,373.0 L557.2,372.3 L557.3,373.3 L557.7,373.8 L558.2,373.8 L558.7,372.9 L559.2,372.5 L559.7,372.4 L560.2,373.2 L560.4,372.0 L560.7,373.7 L561.2,373.5 L561.7,374.5 L562.1,376.4 L562.2,376.1 L562.7,379.7 L563.0,382.5 L563.2,383.4 L563.7,384.8 L564.2,386.6 L564.7,386.8 L564.7,387.8 L565.2,389.8 L565.7,393.8 L566.1,395.7 L566.2,401.0 L566.4,410.0 L566.7,421.3 L567.0,431.9 L567.2,432.8 L567.7,435.8 L568.2,436.9 L568.6,438.5 L568.7,442.6 L569.2,464.8 L569.2,464.8 L569.7,450.2 L570.2,435.0 L570.3,431.9 L570.7,425.9 L571.2,417.8 L571.4,414.4 L571.7,415.3 L572.2,416.3 L572.5,416.6 L572.7,418.9 L573.2,425.9 L573.6,431.9 L573.7,431.7 L574.2,427.6 L574.7,424.2 L574.7,424.3 L575.2,423.1 L575.7,420.3 L576.2,418.5 L576.3,418.8 L576.7,412.8 L577.0,411.5 L577.2,408.2 L577.7,404.8 L578.2,401.1 L578.7,395.4 L578.8,393.9 L579.2,393.8 L579.7,392.6 L580.2,391.6 L580.5,391.3 L580.7,391.7 L581.2,389.5 L581.7,389.4 L582.2,388.3 L582.7,388.4 L582.7,387.8 L583.2,389.8 L583.7,390.5 L584.2,392.0 L584.5,393.1 L584.7,393.2 L585.2,392.5 L585.7,392.1 L586.2,390.8 L586.2,390.4 L586.7,389.0 L587.2,389.5 L587.7,390.0 L588.2,390.1 L588.4,390.0 L588.7,390.8 L589.2,392.4 L589.7,393.0 L590.2,393.3 L590.6,394.4 L590.7,394.1 L591.2,395.7 L591.7,395.3 L592.2,396.9 L592.7,397.0 L593.2,396.9 L593.2,397.5 L593.7,395.1 L594.2,392.0 L594.7,388.1 L595.2,384.9 L595.4,384.7 L595.7,383.7 L596.2,383.7 L596.7,382.4 L597.2,381.7 L597.6,380.8 L597.7,381.1 L598.2,378.9 L598.7,377.6 L599.2,375.9 L599.7,374.0 L600.2,372.1 L600.3,372.0 L600.7,372.1 L601.2,372.3 L601.7,372.1 L602.2,371.7 L602.6,372.9 L602.7,372.0 L603.2,369.1 L603.7,366.7 L604.2,364.6 L604.6,362.4 L604.7,362.3 L605.2,362.9 L605.7,361.0 L606.2,360.6 L606.7,359.5 L607.2,360.1 L607.7,360.7 L608.2,358.3 L608.6,357.8 L608.7,356.9 L609.2,357.8 L609.7,358.8 L610.2,360.0 L610.7,360.2 L611.2,361.0 L611.7,362.0 L612.2,362.5 L612.5,362.4 L612.7,363.1 L613.2,360.0 L613.7,359.3 L614.2,357.2 L614.5,357.1 L614.7,357.3 L615.2,357.1 L615.7,356.3 L616.2,356.6 L616.7,355.7 L617.1,355.1 L617.2,354.7 L617.7,352.6 L618.2,351.6 L618.7,351.0 L619.2,350.8 L619.7,349.5 L620.2,348.9 L620.7,347.5 L621.1,346.6 L621.2,346.3 L621.7,346.6 L622.2,347.3 L622.7,347.0 L623.2,346.8 L623.7,346.6 L623.7,346.6 L624.2,346.0 L624.7,344.7 L625.2,345.0 L625.7,344.0 L626.2,343.8 L626.3,343.3 L626.7,341.3 L627.2,339.4 L627.7,337.5 L628.2,334.8 L628.7,334.2 L628.9,333.4 L629.2,333.0 L629.7,333.5 L630.2,333.5 L630.7,332.0 L631.2,331.0 L631.6,330.8 L631.7,330.7 L632.2,329.4 L632.7,328.5 L633.2,327.1 L633.6,324.9 L633.7,325.0 L634.2,326.1 L634.7,325.5 L634.9,326.8 L635.2,328.1 L635.7,330.7 L636.2,333.2 L636.2,333.4 L636.7,332.8 L637.2,332.6 L637.7,331.3 L638.2,329.5 L638.2,329.5 L638.7,328.2 L639.2,326.1 L639.7,324.9 L640.2,325.7 L640.7,324.2 L640.8,324.2 L641.2,324.9 L641.7,323.9 L642.2,324.1 L642.7,323.9 L643.2,323.7 L643.7,324.3 L644.2,325.6 L644.7,325.7 L644.7,324.9 L645.2,325.6 L645.7,324.7 L646.2,324.9 L646.7,324.8 L647.2,325.5 L647.7,325.5 L648.0,325.5 L648.2,326.9 L648.7,325.2 L649.2,324.9 L649.7,325.7 L650.2,325.6 L650.7,325.0 L651.2,324.6 L651.3,324.9 L651.7,323.7 L652.2,324.3 L652.7,326.8 L653.2,328.0 L653.7,327.5 L654.2,327.2 L654.7,327.1 L655.2,328.4 L655.3,328.2 L655.7,327.3 L656.2,326.1 L656.7,326.2 L657.2,326.4 L657.7,325.8 L657.9,324.2 L658.2,324.1 L658.7,321.7 L659.2,320.0 L659.7,317.0 L660.2,316.3 L660.5,316.3 L660.7,315.0 L661.2,315.3 L661.7,316.5 L662.2,317.0 L662.7,315.8 L663.2,316.2 L663.7,317.0 L664.2,316.4 L664.5,315.7 L664.7,315.7 L665.2,315.5 L665.7,314.2 L666.2,315.5 L666.7,313.6 L667.2,312.7 L667.7,312.4 L667.8,313.0 L668.2,312.5 L668.7,313.3 L669.2,314.1 L669.7,314.4 L670.2,315.7 L670.7,314.4 L671.1,315.0 L671.2,315.8 L671.7,319.9 L671.7,320.3 L672.2,319.5 L672.7,319.3 L673.2,318.0 L673.7,316.7 L673.7,317.6 L674.2,316.4 L674.7,315.9 L675.2,314.5 L675.7,315.0 L676.2,315.6 L676.3,314.3 L676.7,313.1 L677.2,312.1 L677.7,312.8 L678.2,312.3 L678.7,311.6 L679.1,309.9 L679.2,310.4 L679.7,309.4 L680.2,308.8 L680.7,308.2 L681.2,308.6 L681.7,308.2 L682.2,307.7 L682.2,307.3 L682.7,305.6 L683.2,304.3 L683.7,302.3 L684.2,300.8 L684.7,300.3 L685.2,299.1 L685.2,299.1 L685.7,298.1 L686.2,296.9 L686.7,295.5 L687.2,293.9 L687.7,292.2 L688.2,291.4 L688.3,290.9 L688.7,289.3 L689.2,289.1 L689.7,287.9 L690.2,286.1 L690.4,285.3 L690.7,285.8 L691.2,286.2 L691.7,287.6 L691.9,287.9 L692.2,287.9 L692.7,289.7 L693.2,289.8 L693.7,288.6 L694.2,288.6 L694.7,287.6 L695.0,289.4 L695.2,287.8 L695.7,287.9 L696.2,287.4 L696.7,285.2 L697.2,283.2 L697.5,283.8 L697.7,283.1 L698.2,281.9 L698.7,280.5 L699.2,279.8 L699.6,279.7 L699.7,280.3 L700.2,281.0 L700.7,280.8 L701.2,280.8 L701.6,280.2 L701.7,281.1 L702.2,279.9 L702.7,278.4 L703.2,277.6 L703.7,276.2 L703.7,277.1 L704.2,277.4 L704.7,278.8 L705.2,281.8 L705.2,280.7 L705.7,282.6 L706.2,284.1 L706.7,285.5 L706.7,285.8 L707.2,286.2 L707.7,287.6 L708.2,287.7 L708.7,287.6 L709.2,286.8 L709.3,287.4 L709.7,288.0 L710.2,290.7 L710.7,293.0 L711.2,294.4 L711.3,295.0 L711.7,294.8 L712.2,295.2 L712.7,296.2 L712.9,295.5 L713.2,295.3 L713.7,294.2 L714.2,291.8 L714.7,290.0 L714.9,290.4 L715.2,291.4 L715.7,290.6 L716.2,291.1 L716.7,292.0 L717.2,292.3 L717.7,292.6 L718.0,293.0 L718.2,293.2 L718.7,294.0 L719.2,294.7 L719.7,293.9 L720.0,294.5 L720.2,294.6 L720.7,294.8 L721.2,295.3 L721.7,296.3 L722.1,297.6 L722.2,297.1 L722.7,296.9 L723.2,295.4 L723.7,294.9 L724.2,294.7 L724.7,294.5 L725.2,294.7 L725.2,293.5 L725.7,293.9 L726.2,293.3 L726.7,293.7 L727.2,292.5 L727.7,292.8 L728.2,292.5 L728.2,292.0 L728.7,292.4 L729.2,291.2 L729.7,290.5 L730.2,290.6 L730.7,291.5 L731.2,292.3 L731.7,292.2 L732.2,291.9 L732.3,291.5 L732.7,290.8 L733.2,290.8 L733.7,290.5 L734.2,291.0 L734.7,292.5 L735.2,292.6 L735.4,290.9 L735.7,290.7 L736.2,288.7 L736.7,286.4 L737.2,284.4 L737.4,285.3 L737.7,285.0 L738.2,284.9 L738.7,283.5 L739.2,283.6 L739.7,284.2 L740.2,283.5 L740.5,282.8 L740.7,282.4 L741.2,281.4 L741.7,280.8 L742.2,280.5 L742.7,280.5 L743.2,280.7 L743.6,280.2 L743.7,280.8 L744.2,281.4 L744.7,281.5 L745.2,279.9 L745.7,279.5 L746.2,279.7 L746.6,279.7 L746.7,279.2 L747.2,279.6 L747.7,278.9 L748.2,277.6 L748.7,278.1 L749.2,277.9 L749.7,277.7 L750.2,278.1 L750.7,278.5 L750.7,277.1 L751.2,277.5 L751.7,274.4 L752.2,272.5 L752.7,271.0 L753.2,269.3 L753.3,270.0 L753.7,270.2 L754.2,272.2 L754.7,272.9 L754.8,273.0 L755.2,271.8 L755.7,272.8 L756.2,271.8 L756.7,270.3 L756.9,270.5 L757.2,269.9 L757.7,269.5 L758.2,268.4 L758.7,268.4 L759.2,267.3 L759.4,266.9 L759.7,266.8 L760.2,267.9 L760.7,269.1 L761.2,269.4 L761.5,270.5 L761.7,270.4 L762.2,271.4 L762.7,274.7 L763.0,274.6 L763.2,277.2 L763.6,282.3 L763.7,282.6 L764.2,280.4 L764.7,278.1 L765.2,276.7 L765.7,275.5 L766.1,274.1 L766.2,274.8 L766.7,273.8 L767.2,272.0 L767.7,270.2 L768.2,269.2 L768.2,270.0 L768.7,268.4 L769.2,268.3 L769.7,267.5 L770.2,267.3 L770.7,267.6 L770.7,265.9 L771.2,268.1 L771.7,267.6 L772.2,267.2 L772.7,266.6 L773.2,268.4 L773.3,269.0 L773.7,268.5 L774.2,270.1 L774.7,271.1 L774.8,271.6 L775.2,270.9 L775.7,269.7 L775.9,268.0 L776.2,268.6 L776.7,268.1 L777.2,267.8 L777.7,267.8 L778.2,267.3 L778.7,267.3 L778.9,267.5 L779.2,268.6 L779.7,267.1 L780.2,267.2 L780.7,266.3 L781.0,267.0 L781.2,266.7 L781.7,268.3 L782.2,269.0 L782.7,270.3 L783.0,270.0 L783.2,269.0 L783.7,269.0 L784.2,267.8 L784.7,267.5 L785.1,265.9 L785.2,266.9 L785.7,263.8 L786.2,262.2 L786.7,261.5 L787.1,261.8 L787.2,261.9 L787.7,261.7 L788.2,261.2 L788.7,259.3 L789.2,259.9 L789.7,260.9 L789.7,259.8 L790.2,259.6 L790.7,258.2 L791.2,255.4 L791.7,254.6 L791.7,256.2 L792.2,256.0 L792.7,255.7 L793.2,255.9 L793.7,255.4 L793.8,254.2 L794.2,254.9 L794.7,256.6 L795.2,256.3 L795.7,256.9 L795.8,257.8 L796.2,257.3 L796.7,258.0 L797.2,258.5 L797.7,258.9 L798.2,258.5 L798.7,257.8 L798.9,257.8 L799.2,257.8 L799.7,257.1 L800.2,256.0 L800.7,255.1 L801.2,254.7 L801.5,253.7 L801.7,253.1 L802.2,251.5 L802.7,249.8 L803.2,249.5 L803.5,250.1 L803.7,250.4 L804.2,254.0 L804.7,254.7 L805.0,255.7 L805.2,255.3 L805.7,256.3 L806.2,256.6 L806.7,257.1 L807.1,257.8 L807.2,258.9 L807.7,258.1 L808.2,256.9 L808.7,255.6 L809.1,255.7 L809.2,255.3 L809.7,254.1 L810.2,251.6 L810.7,249.3 L811.2,248.0 L811.2,248.5 L811.7,248.3 L812.2,247.7 L812.7,247.9 L813.2,248.0 L813.2,247.0 L813.7,245.5 L814.2,244.3 L814.7,243.6 L815.2,241.9 L815.3,241.4 L815.7,239.1 L816.2,237.3 L816.7,236.5 L817.2,236.2 L817.3,235.2 L817.7,233.5 L818.2,234.5 L818.7,232.5 L819.2,232.4 L819.7,232.5 L820.2,232.3 L820.4,231.1 L820.7,232.9 L821.2,232.6 L821.7,233.8 L822.2,233.9 L822.4,234.7 L822.7,231.8 L823.2,233.2 L823.7,232.7 L824.2,232.9 L824.7,231.0 L825.2,230.8 L825.5,230.6 L825.7,231.1 L826.2,231.9 L826.7,231.7 L827.2,230.5 L827.7,230.4 L828.1,229.1 L828.2,228.8 L828.7,227.6 L829.2,227.8 L829.7,226.8 L830.0,227.8 L830.2,226.4 L830.7,225.5 L831.2,226.2 L831.7,226.4 L832.2,225.3 L832.7,225.4 L833.1,223.7 L833.2,224.0 L833.7,224.2 L834.2,225.4 L834.7,224.7 L835.2,225.0 L835.7,224.4 L836.1,225.7 L836.2,224.8 L836.7,226.2 L837.2,225.7 L837.7,225.8 L838.2,224.7 L838.7,223.4 L839.2,222.1 L839.2,224.2 L839.7,222.8 L840.2,224.2 L840.7,224.0 L841.2,222.7 L841.7,222.4 L841.8,222.1 L842.2,221.6 L842.7,222.1 L843.2,222.3 L843.7,222.6 L844.2,223.2 L844.3,222.1 L844.7,222.8 L845.2,222.6 L845.7,221.5 L846.2,221.5 L846.7,220.6 L847.2,220.9 L847.4,221.1 L847.7,220.9 L848.2,222.0 L848.7,223.2 L849.2,222.7 L849.4,223.1 L849.7,222.2 L850.2,221.3 L850.7,221.6 L851.2,222.9 L851.5,222.6 L851.7,224.1 L852.2,225.6 L852.7,228.8 L853.0,228.8 L853.2,228.6 L853.7,229.8 L854.2,229.4 L854.7,227.2 L855.2,229.6 L855.6,229.8 L855.7,230.8 L856.2,230.0 L856.7,230.2 L857.2,229.8 L857.6,229.3 L857.7,229.9 L858.2,229.0 L858.7,228.7 L859.2,229.2 L859.7,229.4 L859.7,230.3 L860.2,230.4 L860.7,230.5 L861.2,232.5 L861.7,232.0 L862.2,232.3 L862.7,230.9 L862.8,231.3 L863.2,227.7 L863.7,226.2 L864.2,222.9 L864.3,222.6 L864.7,223.0 L865.2,223.1 L865.7,222.2 L866.2,222.0 L866.7,221.6 L866.8,222.1 L867.2,220.8 L867.7,220.9 L868.2,220.9 L868.7,219.7 L869.2,218.0 L869.4,218.5 L869.7,217.7 L870.2,217.7 L870.7,218.6 L870.9,219.6 L871.2,221.4 L871.7,223.0 L872.2,224.1 L872.7,225.0 L873.0,224.7 L873.2,226.1 L873.7,227.9 L874.2,229.8 L874.5,231.8 L874.7,231.6 L875.2,232.7 L875.7,234.5 L876.2,235.2 L876.7,235.9 L877.1,237.0 L877.2,236.3 L877.7,241.8 L878.1,246.2 L878.2,246.7 L878.7,253.8 L879.1,258.5 L879.2,257.6 L879.7,253.0 L880.2,246.9 L880.2,247.2 L880.7,248.8 L881.2,252.3 L881.2,251.3 L881.7,248.0 L882.2,245.6 L882.7,243.6 L883.2,240.7 L883.2,240.5 L883.7,242.1 L884.2,244.0 L884.7,244.4 L885.2,245.9 L885.3,245.2 L885.7,245.9 L886.2,246.0 L886.7,246.4 L887.2,247.0 L887.7,247.7 L887.8,248.2 L888.2,249.6 L888.7,250.2 L889.2,253.5 L889.4,254.4 L889.7,255.2 L890.2,256.0 L890.7,256.1 L891.2,256.2 L891.4,256.4 L891.7,256.3 L892.2,256.3 L892.7,254.6 L893.2,254.7 L893.5,255.4 L893.7,255.7 L894.2,251.4 L894.7,249.5 L895.2,246.9 L895.5,245.2 L895.7,244.8 L896.2,245.7 L896.7,244.3 L897.2,244.0 L897.7,245.0 L898.1,244.1 L898.2,244.2 L898.7,242.6 L899.2,241.3 L899.7,239.7 L900.2,239.8 L900.7,237.9 L901.1,237.0 L901.2,238.1 L901.7,238.5 L902.2,240.5 L902.7,242.1 L903.2,241.4 L903.2,242.1 L903.7,243.5 L904.2,244.7 L904.7,246.3 L904.7,247.2 L905.2,247.4 L905.7,245.9 L906.2,244.4 L906.7,244.9 L907.2,244.4 L907.7,245.0 L907.8,244.1 L908.2,245.4 L908.7,244.9 L909.2,245.3 L909.3,246.2 L909.7,245.7 L910.2,245.8 L910.7,244.9 L911.2,244.1 L911.7,243.2 L911.9,243.1 L912.2,242.4 L912.7,243.9 L913.2,243.7 L913.7,242.7 L914.2,242.2 L914.7,242.7 L915.0,242.8 L915.2,243.2 L915.7,243.0 L916.2,242.2 L916.7,241.9 L917.0,240.9 L917.2,240.6 L917.7,240.1 L918.2,241.2 L918.7,241.3 L919.2,241.8 L919.6,242.9 L919.7,242.6 L920.2,242.0 L920.7,240.9 L921.2,241.4 L921.7,240.9 L922.2,239.6 L922.2,239.4 L922.7,238.9 L923.2,238.2 L923.7,236.6 L924.2,235.8 L924.7,234.9 L924.7,234.2 L925.2,234.0 L925.7,234.6 L926.2,235.0 L926.7,235.3 L927.2,234.7 L927.7,235.0 L928.2,235.6 L928.3,235.8 L928.7,235.4 L929.2,233.8 L929.7,233.6 L930.2,231.9 L930.7,230.9 L930.9,231.2 L931.2,231.4 L931.7,230.5 L932.2,229.7 L932.7,230.0 L933.2,229.3 L933.4,229.1 L933.7,229.0 L934.2,229.2 L934.7,230.2 L935.2,228.6 L935.5,228.1 L935.7,227.8 L936.2,226.2 L936.7,224.6 L937.2,223.3 L937.5,223.0 L937.7,222.0 L938.2,222.2 L938.7,221.3 L939.2,221.0 L939.7,220.7 L940.2,219.6 L940.6,219.9 L940.7,219.2 L941.2,220.1 L941.7,220.0 L942.2,219.0 L942.6,218.4 L942.7,218.7 L943.2,218.5 L943.7,219.3 L944.2,220.7 L944.7,220.6 L944.7,220.9 L945.2,220.2 L945.7,220.9 L946.2,220.3 L946.7,220.2 L947.2,219.1 L947.7,218.1 L947.8,218.9 L948.2,217.7 L948.7,219.4 L949.2,219.0 L949.7,218.4 L950.2,217.5 L950.7,216.9 L950.8,217.9 L951.2,217.5 L951.7,217.9 L952.2,219.6 L952.7,219.9 L953.2,221.2 L953.4,220.4 L953.7,220.6 L954.2,219.7 L954.7,217.5 L955.2,216.4 L955.4,215.8 L955.7,215.6 L956.2,215.0 L956.7,213.0 L957.2,213.2 L957.5,212.8 L957.7,213.0 L958.2,213.8 L958.7,214.8 L959.2,215.6 L959.7,217.0 L960.0,216.8 L960.2,216.8 L960.7,216.5 L961.2,217.3 L961.7,218.0 L962.2,218.1 L962.7,218.1 L963.1,218.4 L963.2,217.5 L963.7,216.4 L964.2,216.3 L964.7,214.4 L965.2,214.6 L965.7,214.3 L965.7,213.3 L966.2,214.0 L966.7,214.8 L967.2,213.7 L967.7,212.7 L968.2,212.0 L968.2,212.8 L968.7,212.3 L969.2,212.7 L969.7,212.9 L970.2,213.5 L970.7,212.3 L971.2,213.2 L971.3,212.8 L971.7,212.5 L972.2,212.3 L972.7,212.3 L973.2,211.5 L973.7,210.5 L974.2,209.7 L974.4,210.7 L974.7,210.6 L975.2,212.5 L975.7,214.3 L976.2,214.9 L976.4,214.8 L976.7,217.0 L977.2,220.1 L977.4,222.0 L977.7,220.0 L978.2,215.0 L978.5,213.8 L978.7,213.8 L979.2,213.3 L979.7,212.4 L980.2,212.4 L980.7,212.7 L981.0,212.8 L981.2,212.2 L981.7,211.9 L982.2,210.6 L982.7,210.3 L983.1,209.7 L983.2,210.1 L983.7,208.9 L984.2,209.0 L984.7,208.1 L985.2,207.4 L985.6,206.1 L985.7,206.1 L986.2,206.2 L986.7,207.2 L987.2,206.8 L987.7,207.9 L988.2,208.7 L988.2,208.1 L988.7,208.5 L989.2,206.3 L989.7,205.9 L990.2,206.1 L990.7,205.3 L990.7,205.1 L991.2,206.7 L991.7,206.1 L992.2,207.9 L992.7,208.6 L993.2,210.5 L993.3,210.2 L993.7,208.4 L994.2,207.8 L994.7,206.3 L995.2,205.7 L995.7,203.8 L995.9,203.5 L996.2,202.2 L996.7,203.3 L997.2,201.7 L997.7,200.2 L997.9,200.0 L998.2,199.6 L998.7,198.7 L999.2,199.8 L999.7,201.0 L1000.0,199.9 L1000.2,200.4 L1000.7,198.9 L1001.2,199.7 L1001.7,200.7 L1002.0,200.9 L1002.2,201.9 L1002.7,203.9 L1003.2,204.1 L1003.7,205.0 L1004.1,205.0 L1004.2,204.4 L1004.7,202.7 L1005.2,203.0 L1005.7,201.9 L1006.1,202.5 L1006.2,203.1 L1006.7,203.3 L1007.2,202.9 L1007.7,203.7 L1007.7,204.0 L1008.2,206.9 L1008.7,209.3 L1009.2,210.4 L1009.2,210.7 L1009.7,209.9 L1010.2,210.3 L1010.7,209.4 L1011.2,208.4 L1011.3,208.6 L1011.7,209.1 L1012.2,209.2 L1012.7,208.4 L1013.2,208.0 L1013.7,207.2 L1014.2,207.5 L1014.3,208.1 L1014.7,207.7 L1015.2,208.5 L1015.7,209.0 L1016.2,207.4 L1016.7,207.5 L1016.9,208.1 L1017.2,208.0 L1017.7,208.1 L1018.2,208.9 L1018.7,208.5 L1019.2,207.6 L1019.4,207.6 L1019.7,208.7 L1020.2,208.3 L1020.7,207.3 L1021.2,208.8 L1021.5,208.6 L1021.7,209.4 L1022.2,210.8 L1022.7,211.3 L1023.2,211.8 L1023.5,212.7 L1023.7,212.0 L1024.2,212.1 L1024.7,212.9 L1025.2,211.3 L1025.7,212.1 L1026.1,211.7 L1026.2,211.3 L1026.7,209.8 L1027.2,209.8 L1027.6,209.1 L1027.7,209.6 L1028.2,211.0 L1028.7,214.8 L1029.2,216.4 L1029.2,216.8 L1029.7,214.2 L1030.2,212.1 L1030.7,210.6 L1030.7,210.2 L1031.2,209.3 L1031.7,209.1 L1032.2,207.4 L1032.7,207.1 L1032.8,206.6 L1033.2,206.1 L1033.7,205.2 L1034.2,206.3 L1034.7,206.1 L1035.2,205.7 L1035.3,206.1 L1035.7,207.8 L1036.2,208.4 L1036.7,208.1 L1037.2,209.1 L1037.4,209.1 L1037.7,208.0 L1038.2,208.7 L1038.7,209.4 L1039.2,208.7 L1039.4,208.1 L1039.7,208.4 L1040.2,209.1 L1040.7,209.9 L1041.2,210.0 L1041.7,211.3 L1042.0,210.7 L1042.2,210.5 L1042.7,211.3 L1043.2,212.1 L1043.7,212.9 L1044.0,213.7 L1044.2,214.0 L1044.7,213.2 L1045.2,214.0 L1045.7,214.0 L1046.2,213.8 L1046.6,213.2 L1046.7,213.1 L1047.2,212.8 L1047.7,213.6 L1048.2,213.3 L1048.6,214.8 L1048.7,213.8 L1049.2,215.7 L1049.7,217.4 L1050.2,219.5 L1050.2,218.3 L1050.7,216.6 L1051.2,213.2 L1051.7,211.3 L1051.7,211.7 L1052.2,211.1 L1052.7,211.5 L1053.2,211.0 L1053.7,211.3 L1054.2,211.4 L1054.2,211.2 L1054.7,210.6 L1055.2,209.5 L1055.7,208.5 L1056.2,207.2 L1056.7,206.0 L1056.8,206.1 L1057.2,205.4 L1057.7,203.7 L1058.2,203.8 L1058.7,202.3 L1059.2,201.6 L1059.4,200.9 L1059.7,200.5 L1060.2,199.2 L1060.7,200.0 L1061.2,198.6 L1061.4,197.4 L1061.7,197.0 L1062.2,195.9 L1062.7,195.1 L1063.2,196.6 L1063.7,196.3 L1064.0,195.8 L1064.2,196.1 L1064.7,193.9 L1065.2,192.7 L1065.7,192.0 L1066.0,191.7 L1066.2,192.7 L1066.7,192.3 L1067.2,192.8 L1067.7,193.3 L1068.2,192.8 L1068.6,192.8 L1068.7,193.1 L1069.2,192.7 L1069.7,190.8 L1070.2,191.1 L1070.6,191.2 L1070.7,191.5 L1071.2,191.8 L1071.7,191.2 L1072.2,192.8 L1072.7,193.3 L1072.7,193.8 L1073.2,192.8 L1073.7,192.5 L1074.2,190.6 L1074.7,189.8 L1075.2,188.2 L1075.2,188.1 L1075.7,188.0 L1076.2,188.0 L1076.7,188.0 L1077.2,189.0 L1077.7,189.2 L1077.8,188.7 L1078.2,188.0 L1078.7,186.6 L1079.2,185.6 L1079.7,183.8 L1079.8,183.5 L1080.2,181.6 L1080.7,179.4 L1081.2,176.6 L1081.4,176.4 L1081.7,175.9 L1082.2,175.7 L1082.7,177.4 L1083.2,178.5 L1083.4,178.4 L1083.7,178.6 L1084.2,178.0 L1084.7,179.2 L1085.0,178.4 L1085.2,178.4 L1085.7,176.6 L1086.2,175.0 L1086.7,173.5 L1087.0,173.3 L1087.2,173.4 L1087.7,173.1 L1088.2,174.2 L1088.7,173.1 L1089.2,173.2 L1089.6,172.8 L1089.7,172.0 L1090.2,172.8 L1090.7,172.2 L1091.2,171.8 L1091.7,172.4 L1092.2,173.1 L1092.2,171.7 L1092.7,174.0 L1093.2,175.5 L1093.7,176.2 L1093.7,176.8 L1094.2,175.4 L1094.7,174.6 L1095.2,173.5 L1095.2,173.3 L1095.7,173.4 L1096.2,173.7 L1096.7,173.7 L1097.2,174.7 L1097.7,176.5 L1097.8,175.3 L1098.2,175.5 L1098.7,176.0 L1099.2,176.2 L1099.7,177.2 L1100.2,177.1 L1100.4,177.4 L1100.7,177.4 L1101.2,176.9 L1101.7,177.7 L1102.2,178.3 L1102.7,178.5 L1102.9,178.4 L1103.2,181.2 L1103.7,184.9 L1103.9,186.1 L1104.2,190.7 L1104.4,195.3 L1104.7,194.4 L1105.2,193.9 L1105.7,193.3 L1106.2,193.3 L1106.5,192.7 L1106.7,193.6 L1107.2,192.7 L1107.7,192.0 L1108.2,193.3 L1108.5,193.2 L1108.7,194.5 L1109.2,194.1 L1109.7,193.1 L1110.2,192.7 L1110.7,192.6 L1111.1,192.2 L1111.2,191.6 L1111.7,191.6 L1112.2,190.4 L1112.7,189.2 L1113.2,189.6 L1113.7,188.5 L1113.7,189.1 L1114.2,187.7 L1114.7,187.3 L1115.2,186.9 L1115.7,185.5 L1115.7,185.5 L1116.2,185.7 L1116.7,185.2 L1117.2,186.8 L1117.7,187.5 L1118.2,186.6 L1118.3,187.1 L1118.7,185.4 L1119.2,184.5 L1119.7,183.6 L1120.2,183.9 L1120.7,183.7 L1120.8,182.0 L1121.2,182.6 L1121.7,181.7 L1122.2,179.9 L1122.7,179.6 L1122.9,180.4 L1123.2,179.6 L1123.7,181.7 L1124.2,181.8 L1124.4,179.9 L1124.7,181.0 L1125.2,182.0 L1125.7,183.7 L1125.9,184.0 L1126.2,182.5 L1126.7,180.4 L1127.2,178.5 L1127.5,177.9 L1127.7,177.7 L1128.2,177.6 L1128.7,176.9 L1129.2,177.5 L1129.7,177.0 L1130.0,176.3 L1130.2,176.6 L1130.7,175.6 L1131.2,174.9 L1131.7,175.4 L1132.2,174.1 L1132.7,174.0 L1133.1,174.3 L1133.2,174.4 L1133.7,174.0 L1134.2,174.1 L1134.7,173.1 L1135.2,174.1 L1135.7,174.9 L1136.2,174.9 L1136.2,173.8 L1136.7,173.0 L1137.2,171.5 L1137.7,171.8 L1138.2,172.7 L1138.7,172.6 L1138.7,172.2 L1139.2,172.8 L1139.7,171.5 L1140.2,170.6 L1140.7,169.8 L1141.2,169.5 L1141.3,169.2 L1141.7,168.5 L1142.2,169.4 L1142.7,170.7 L1143.2,170.2 L1143.7,169.5 L1144.2,170.1 L1144.4,169.7 L1144.7,170.4 L1145.2,169.5 L1145.7,171.1 L1146.2,172.1 L1146.7,172.6 L1146.9,173.8 L1147.2,174.2 L1147.7,173.4 L1148.2,171.9 L1148.7,171.2 L1149.2,169.6 L1149.5,169.2 L1149.7,168.4 L1150.2,168.4 L1150.7,167.6 L1151.2,166.7 L1151.7,167.5 L1152.2,167.4 L1152.6,167.1 L1152.7,167.2 L1153.2,166.8 L1153.7,166.3 L1154.2,166.8 L1154.7,166.3 L1155.2,167.4 L1155.6,165.6 L1155.7,166.2 L1156.2,165.0 L1156.7,163.1 L1157.2,162.0 L1157.7,161.8 L1158.2,162.3 L1158.2,161.5 L1158.7,162.5 L1159.2,163.0 L1159.7,163.4 L1160.2,163.5 L1160.7,163.4 L1161.2,164.3 L1161.7,163.8 L1161.8,164.6 L1162.2,164.5 L1162.7,164.8 L1163.2,164.5 L1163.7,163.9 L1164.2,162.7 L1164.7,164.2 L1164.8,164.1 L1165.2,163.0 L1165.7,164.0 L1166.2,164.0 L1166.7,163.2 L1166.9,163.0 L1167.2,162.3 L1167.7,163.3 L1168.2,164.9 L1168.7,164.2 L1169.2,164.1 L1169.7,164.9 L1170.0,165.4 L1170.2,164.9 L1170.7,165.7 L1171.2,164.5 L1171.7,164.3 L1172.2,162.8 L1172.7,164.0 L1173.1,162.2 L1173.2,163.0 L1173.7,161.2 L1174.2,161.0 L1174.7,160.8 L1175.2,162.2 L1175.7,161.7 L1176.1,161.7 L1176.2,161.2 L1176.7,161.0 L1177.2,161.7 L1177.7,161.2 L1178.2,161.5 L1178.7,161.5 L1179.2,160.8 L1179.7,160.7 L1180.2,160.4 L1180.2,160.2 L1180.7,159.7 L1181.2,160.8 L1181.7,159.8 L1182.2,161.0 L1182.7,161.9 L1183.2,161.8 L1183.7,161.3 L1184.2,160.9 L1184.3,161.7 L1184.7,162.0 L1185.2,163.5 L1185.7,164.7 L1186.2,166.4 L1186.4,165.8 L1186.7,167.4 L1187.2,169.6 L1187.4,169.9 L1187.7,168.9 L1188.2,169.1 L1188.7,169.1 L1189.2,168.7 L1189.7,169.6 L1190.0,168.4 L1190.2,170.1 L1190.7,167.8 L1191.2,167.9 L1191.7,166.7 L1192.2,167.7 L1192.7,169.9 L1193.2,169.3 L1193.5,168.9 L1193.7,169.0 L1194.2,168.0 L1194.7,167.6 L1195.2,167.6 L1195.7,168.2 L1196.2,166.7 L1196.6,166.8 L1196.7,167.4 L1197.2,166.7 L1197.7,167.0 L1198.2,168.3 L1198.7,169.0 L1198.7,167.9 L1199.2,169.3 L1199.7,169.8 L1200.2,170.4 L1200.7,171.4 L1200.7,172.0 L1201.2,173.4 L1201.7,173.3 L1202.2,174.4 L1202.7,175.5 L1202.8,176.1 L1203.2,175.2 L1203.7,174.5 L1204.2,174.4 L1204.7,173.7 L1204.8,173.5 L1205.2,174.2 L1205.7,174.7 L1206.2,176.3 L1206.3,175.0 L1206.7,174.7 L1207.2,175.8 L1207.7,175.8 L1207.9,175.0 L1208.2,176.4 L1208.7,176.8 L1209.2,176.5 L1209.7,177.4 L1210.2,177.9 L1210.4,179.1 L1210.7,178.4 L1211.2,176.6 L1211.7,177.0 L1212.0,176.1 L1212.2,176.3 L1212.7,174.9 L1213.2,173.2 L1213.7,171.3 L1214.0,170.4 L1214.2,169.9 L1214.7,169.8 L1215.2,170.2 L1215.7,170.3 L1216.2,169.2 L1216.7,168.9 L1217.1,169.4 L1217.2,168.2 L1217.7,168.9 L1218.2,171.0 L1218.7,172.2 L1219.1,170.9 L1219.2,172.8 L1219.7,173.4 L1220.2,174.1 L1220.7,174.8 L1220.7,176.1 L1221.2,174.3 L1221.7,172.5 L1222.2,171.3 L1222.2,171.5 L1222.7,171.8 L1223.2,172.9 L1223.7,174.9 L1224.2,175.4 L1224.2,175.0 L1224.7,174.8 L1225.2,174.0 L1225.7,174.6 L1226.2,173.8 L1226.3,173.0 L1226.7,172.4 L1227.2,170.9 L1227.7,169.1 L1228.2,169.0 L1228.7,170.5 L1228.9,169.4 L1229.2,170.0 L1229.7,171.6 L1230.2,172.5 L1230.7,172.2 L1231.2,173.0 L1231.4,173.5 L1231.7,173.3 L1232.2,172.9 L1232.7,174.8 L1233.2,173.4 L1233.7,173.8 L1234.0,174.0 L1234.2,174.2 L1234.7,173.8 L1235.2,174.2 L1235.7,175.2 L1236.2,175.5 L1236.5,175.5 L1236.7,175.8 L1237.2,176.3 L1237.7,174.5 L1238.2,175.7 L1238.7,177.5 L1239.2,178.5 L1239.6,177.6 L1239.7,179.3 L1240.2,176.6 L1240.7,175.3 L1241.2,173.5 L1241.6,173.0 L1241.7,172.4 L1242.2,173.0 L1242.7,172.0 L1243.2,171.6 L1243.7,169.9 L1243.7,170.4 L1244.2,169.7 L1244.7,169.9 L1245.2,169.5 L1245.7,169.1 L1246.2,170.5 L1246.3,169.4 L1246.7,168.5 L1247.2,166.4 L1247.7,164.4 L1247.8,165.8 L1248.2,164.4 L1248.7,165.3 L1249.2,164.8 L1249.7,163.2 L1249.8,162.8 L1250.2,161.5 L1250.7,161.1 L1251.2,159.3 L1251.7,159.3 L1251.9,159.2 L1252.2,159.5 L1252.7,159.0 L1253.2,158.9 L1253.7,158.9 L1254.2,159.7 L1254.4,158.6 L1254.7,158.5 L1255.2,159.1 L1255.7,158.5 L1256.2,157.9 L1256.7,158.2 L1257.2,158.0 L1257.7,157.1 L1258.1,157.0 L1258.2,155.5 L1258.7,153.8 L1259.2,154.1 L1259.7,154.8 L1260.2,154.3 L1260.7,154.2 L1261.1,152.3 L1261.2,152.9 L1261.7,152.6 L1262.2,152.8 L1262.7,152.0 L1263.2,151.4 L1263.7,151.6 L1264.2,151.4 L1264.7,150.6 L1265.2,151.0 L1265.2,151.3 L1265.7,150.5 L1266.2,151.2 L1266.7,151.0 L1267.2,150.5 L1267.7,150.4 L1268.2,149.9 L1268.3,149.8 L1268.7,149.3 L1269.2,149.1 L1269.7,149.8 L1270.2,150.5 L1270.7,151.6 L1271.2,150.4 L1271.7,150.2 L1271.9,150.3 L1272.2,149.3 L1272.7,148.5 L1273.2,147.5 L1273.7,146.1 L1273.9,146.2 L1274.2,145.4 L1274.7,144.1 L1275.2,141.6 L1275.7,141.2 L1276.2,140.4 L1276.5,139.0 L1276.7,138.8 L1277.2,139.0 L1277.7,137.9 L1278.2,138.4 L1278.7,138.0 L1279.1,137.0 L1279.2,137.1 L1279.7,136.8 L1280.2,136.2 L1280.7,136.8 L1281.2,137.3 L1281.6,136.5 L1281.7,137.7 L1282.2,137.3 L1282.7,134.1 L1283.2,134.0 L1283.7,132.3 L1284.2,132.4 L1284.7,133.1 L1284.7,132.9 L1285.2,132.6 L1285.7,131.7 L1286.2,130.8 L1286.7,129.9 L1287.2,128.7 L1287.7,127.5 L1287.8,127.8 L1288.2,125.8 L1288.7,125.7 L1289.2,124.7 L1289.7,124.4 L1290.2,122.9 L1290.3,122.6 L1290.7,123.6 L1291.2,124.7 L1291.7,126.4 L1291.8,126.7 L1292.2,127.2 L1292.7,127.3 L1293.2,126.6 L1293.7,125.8 L1293.9,126.7 L1294.2,126.7 L1294.7,125.9 L1295.2,125.2 L1295.7,125.7 L1295.9,125.7 L1296.2,126.0 L1296.7,126.1 L1297.2,125.4 L1297.7,127.1 L1298.2,127.4 L1298.7,127.9 L1299.0,126.7 L1299.2,127.7 L1299.7,126.3 L1300.2,125.3 L1300.7,125.8 L1301.2,126.4 L1301.6,125.7 L1301.7,126.7 L1302.2,126.6 L1302.7,125.9 L1303.2,126.0 L1303.6,127.2 L1303.7,125.0 L1304.2,125.3 L1304.7,125.9 L1305.2,127.9 L1305.7,128.4 L1306.2,127.7 L1306.2,125.7 L1306.7,126.4 L1307.2,123.0 L1307.7,122.2 L1308.2,121.8 L1308.7,122.1 L1309.2,122.0 L1309.2,122.1 L1309.7,122.0 L1310.2,121.6 L1310.7,121.8 L1311.2,122.5 L1311.7,121.2 L1312.2,120.3 L1312.7,118.8 L1313.2,119.7 L1313.3,120.1 L1313.7,120.3 L1314.2,120.4 L1314.7,118.9 L1315.2,118.2 L1315.7,117.5 L1316.2,117.0 L1316.4,117.0 L1316.7,116.5 L1317.2,116.4 L1317.7,115.7 L1318.2,116.0 L1318.7,115.7 L1319.2,115.0 L1319.2,114.9 L1319.7,114.1 L1320.2,113.0 L1320.7,113.0 L1321.2,112.2 L1321.5,111.5 L1321.7,111.7 L1322.2,110.6 L1322.7,108.5 L1323.2,108.5 L1323.4,108.0 L1323.7,108.9 L1324.2,112.1 L1324.5,112.9 L1324.7,120.3 L1325.1,131.3 L1325.2,133.5 L1325.7,142.5 L1325.8,144.5 L1326.2,162.7 L1326.4,172.1 L1326.7,165.7 L1327.2,155.3 L1327.7,146.3 L1327.8,144.5 L1328.2,145.4 L1328.7,147.3 L1329.2,148.3 L1329.7,149.9 L1329.7,149.7 L1330.2,146.1 L1330.7,142.9 L1331.1,140.5 L1331.2,141.1 L1331.7,142.3 L1332.2,143.1 L1332.7,143.4 L1333.0,144.5 L1333.2,143.6 L1333.7,142.1 L1334.2,140.2 L1334.7,137.8 L1335.0,137.9 L1335.2,136.2 L1335.7,136.1 L1336.2,133.9 L1336.7,132.2 L1337.2,130.3 L1337.6,127.4 L1337.7,126.3 L1338.2,125.2 L1338.7,123.4 L1339.2,123.4 L1339.7,122.1 L1340.2,120.1 L1340.7,118.8 L1340.9,118.2 L1341.2,118.2 L1341.7,117.5 L1342.2,116.9 L1342.7,115.2 L1343.0,116.0 L1343.2,114.5 L1343.7,114.7 L1344.2,115.7 L1344.7,115.6 L1345.0,115.3 L1345.2,114.7 L1345.7,114.4 L1346.2,114.1 L1346.7,114.3 L1347.2,114.2 L1347.6,112.8 L1347.7,113.0 L1348.2,111.5 L1348.7,110.3 L1349.2,109.4 L1349.6,107.6 L1349.7,108.7 L1350.2,107.4 L1350.7,105.1 L1351.2,104.1 L1351.7,102.0 L1352.2,101.5 L1352.7,100.8 L1352.7,101.0 L1353.2,100.3 L1353.7,101.4 L1354.2,102.6 L1354.7,103.1 L1355.2,104.9 L1355.2,104.6 L1355.7,105.2 L1356.2,103.1 L1356.7,102.9 L1357.2,102.3 L1357.3,102.0 L1357.7,102.8 L1358.2,104.2 L1358.7,104.2 L1359.2,104.4 L1359.3,104.1 L1359.7,105.6 L1360.2,107.1 L1360.7,109.3 L1360.9,109.7 L1361.2,108.4 L1361.7,106.8 L1362.2,106.6 L1362.4,106.1 L1362.7,105.9 L1363.2,105.6 L1363.7,103.4 L1364.2,101.9 L1364.4,102.0 L1364.7,101.7 L1365.2,102.7 L1365.7,103.2 L1366.2,104.7 L1366.5,105.1 L1366.7,105.3 L1367.2,105.7 L1367.7,106.0 L1368.0,106.6 L1368.2,105.7 L1368.7,102.7 L1369.2,101.0 L1369.6,98.9 L1369.7,99.0 L1370.2,98.1 L1370.7,97.1 L1371.2,96.4 L1371.6,96.4 L1371.7,96.3 L1372.2,96.4 L1372.7,96.0 L1373.2,96.3 L1373.7,95.8 L1374.2,96.4 L1374.2,95.4 L1374.7,95.6 L1375.2,93.3 L1375.7,93.9 L1376.2,93.3 L1376.2,92.8 L1376.7,92.1 L1377.2,91.9 L1377.7,90.9 L1378.2,92.4 L1378.7,92.5 L1379.2,90.9 L1379.3,91.3 L1379.7,92.7 L1380.2,94.1 L1380.7,97.6 L1380.8,96.4 L1381.2,97.1 L1381.7,95.4 L1382.2,95.5 L1382.7,95.1 L1383.2,95.0 L1383.4,94.8 L1383.7,93.4 L1384.2,93.7 L1384.7,94.8 L1385.2,93.0 L1385.7,93.6 L1385.9,93.8 L1386.2,92.9 L1386.7,94.7 L1387.2,95.1 L1387.5,94.8 L1387.7,95.6 L1388.2,98.4 L1388.7,100.8 L1389.2,102.3 L1389.5,103.5 L1389.7,104.8 L1390.2,106.2 L1390.7,106.5 L1391.1,109.2 L1391.2,109.6 L1391.7,108.7 L1392.2,107.7 L1392.7,107.4 L1393.1,105.6 L1393.2,105.8 L1393.7,105.3 L1394.2,105.6 L1394.7,105.8 L1395.2,106.4 L1395.2,107.1 L1395.7,106.3 L1396.2,104.8 L1396.7,104.1 L1397.2,103.4 L1397.7,101.3 L1397.7,101.5 L1398.2,101.7 L1398.7,101.3 L1399.2,102.5 L1399.7,103.4 L1400.2,103.7 L1400.3,103.0 L1400.7,102.5 L1401.2,102.3 L1401.7,101.4 L1402.2,101.7 L1402.7,101.4 L1403.2,100.3 L1403.3,101.0 L1403.7,100.6 L1404.2,100.7 L1404.7,99.8 L1405.2,100.4 L1405.7,99.8 L1406.2,99.2 L1406.4,98.9 L1406.7,98.8 L1407.2,97.2 L1407.7,96.1 L1408.2,95.0 L1408.5,95.9 L1408.7,95.5 L1409.2,96.5 L1409.7,96.0 L1410.2,96.8 L1410.7,96.1 L1411.2,95.9 L1411.5,96.4 L1411.7,96.1 L1412.2,95.6 L1412.7,96.9 L1413.2,96.4 L1413.7,95.2 L1414.2,95.9 L1414.7,95.2 L1415.1,94.3 L1415.2,94.8 L1415.7,92.3 L1416.2,92.7 L1416.7,93.1 L1417.2,93.4 L1417.7,93.9 L1417.7,93.8 L1418.2,94.9 L1418.7,94.5 L1419.2,94.9 L1419.7,94.2 L1420.2,93.9 L1420.2,94.3 L1420.7,94.2 L1421.2,94.1 L1421.7,92.7 L1422.2,92.6 L1422.7,92.1 L1422.8,91.8 L1423.2,91.7 L1423.7,92.2 L1424.2,92.1 L1424.7,91.0 L1425.2,90.2 L1425.7,91.7 L1425.9,91.3 L1426.2,91.5 L1426.7,93.2 L1427.2,95.2 L1427.4,95.4 L1427.7,97.0 L1428.2,97.7 L1428.7,99.1 L1428.9,100.0 L1429.2,99.9 L1429.7,100.6 L1430.0,100.2 L1430.2,100.0 L1430.7,98.7 L1431.2,99.1 L1431.7,99.5 L1432.2,99.4 L1432.7,98.6 L1432.9,98.5 L1433.2,98.1 L1433.7,97.4 L1434.2,97.4 L1434.7,95.8 L1435.2,95.2 L1435.3,94.9 L1435.7,95.9 L1436.2,96.2 L1436.7,97.7 L1437.2,98.9 L1437.7,99.8 L1438.2,101.3 L1438.7,101.1 L1438.8,102.0 L1439.2,100.5 L1439.7,100.0 L1440.2,99.4 L1440.7,99.4 L1441.1,97.3 L1441.2,97.5 L1441.7,96.0 L1442.2,96.1 L1442.7,96.3 L1443.2,98.0 L1443.7,98.6 L1444.2,97.5 L1444.7,97.9 L1445.2,96.8 L1445.2,97.3 L1445.7,96.9 L1446.2,100.2 L1446.7,101.6 L1447.2,103.2 L1447.5,104.3 L1447.7,104.6 L1448.2,106.8 L1448.7,107.9 L1448.7,107.2 L1449.2,108.2 L1449.7,106.7 L1450.2,105.0 L1450.7,105.6 L1451.1,106.1 L1451.2,106.7 L1451.7,108.0 L1452.2,109.0 L1452.7,109.7 L1453.2,109.9 L1453.4,111.3 L1453.7,111.6 L1454.2,112.5 L1454.7,113.3 L1455.2,114.0 L1455.7,115.2 L1455.7,114.8 L1456.2,116.3 L1456.7,117.6 L1457.2,117.5 L1457.5,118.9 L1457.7,118.1 L1458.2,119.3 L1458.7,118.2 L1459.2,117.7 L1459.7,117.9 L1459.8,117.7 L1460.2,117.9 L1460.7,117.7 L1461.2,115.7 L1461.7,115.4 L1462.2,113.8 L1462.2,114.2 L1462.7,115.4 L1463.2,118.1 L1463.7,119.9 L1463.9,122.4 L1464.2,122.1 L1464.7,125.8 L1465.2,127.6 L1465.7,129.5 L1466.2,130.1 L1466.4,129.7 L1466.7,131.4 L1467.2,132.8 L1467.7,134.8 L1468.2,136.5 L1468.7,138.6 L1468.8,139.0 L1469.2,139.2 L1469.7,138.6 L1470.2,137.5 L1470.5,137.9 L1470.7,135.5 L1471.2,134.0 L1471.7,132.0 L1472.2,130.8 L1472.3,130.3 L1472.7,132.8 L1473.2,134.3 L1473.7,136.7 L1474.0,137.9 L1474.2,138.0 L1474.7,143.0 L1475.2,147.4 L1475.2,146.1 L1475.7,147.1 L1476.2,146.1 L1476.7,146.1 L1477.2,144.6 L1477.7,144.0 L1478.1,144.9 L1478.2,144.9 L1478.7,146.2 L1479.2,147.1 L1479.7,149.1 L1480.2,149.4 L1480.5,150.1 L1480.7,149.4 L1481.2,146.4 L1481.7,143.1 L1482.2,140.7 L1482.7,137.2 L1482.8,137.9 L1483.2,136.9 L1483.7,134.9 L1484.2,135.0 L1484.7,132.7 L1485.2,131.5 L1485.7,129.2 L1485.7,129.1 L1486.2,129.5 L1486.7,131.3 L1487.2,133.3 L1487.7,133.8 L1488.1,135.5 L1488.2,136.0 L1488.7,136.3 L1489.2,137.3 L1489.7,138.4 L1490.2,139.7 L1490.4,139.6 L1490.7,139.3 L1491.2,141.9 L1491.7,143.8 L1492.2,144.8 L1492.2,143.7 L1492.7,146.8 L1493.2,148.1 L1493.7,149.9 L1494.2,153.2 L1494.5,154.8 L1494.7,155.0 L1495.2,155.1 L1495.7,155.4 L1496.2,157.2 L1496.3,157.2 L1496.7,158.6 L1497.2,160.0 L1497.7,163.0 L1498.2,165.3 L1498.6,165.9 L1498.7,166.6 L1499.2,163.8 L1499.7,160.1 L1500.2,156.8 L1500.4,156.6 L1500.7,154.2 L1501.2,151.9 L1501.7,150.0 L1502.2,148.4 L1502.7,146.4 L1502.7,145.5 L1503.2,145.0 L1503.7,142.6 L1504.2,139.4 L1504.7,137.6 L1505.0,136.7 L1505.2,136.0 L1505.7,135.2 L1506.2,134.6 L1506.7,133.1 L1507.2,131.6 L1507.7,130.9 L1508.0,130.8 L1508.2,131.1 L1508.7,131.8 L1509.2,133.1 L1509.7,133.9 L1510.2,133.8 L1510.3,134.9 L1510.7,133.8 L1511.2,134.9 L1511.7,134.1 L1512.2,134.6 L1512.6,134.9 L1512.7,134.8 L1513.2,134.1 L1513.7,131.7 L1514.2,131.5 L1514.7,129.9 L1515.0,128.5 L1515.2,128.4 L1515.7,127.4 L1516.2,127.0 L1516.7,126.4 L1517.2,125.6 L1517.3,125.6 L1517.7,127.3 L1518.2,127.6 L1518.7,127.8 L1519.2,129.4 L1519.6,130.8 L1519.7,130.9 L1520.2,132.5 L1520.7,132.3 L1521.2,133.9 L1521.7,135.0 L1522.0,135.5 L1522.2,136.8 L1522.7,135.5 L1523.2,135.2 L1523.7,134.6 L1524.2,133.1 L1524.7,132.4 L1524.9,133.2 L1525.2,133.0 L1525.7,132.2 L1526.2,131.2 L1526.7,131.4 L1527.2,131.5 L1527.7,131.8 L1527.8,130.8 L1528.2,130.4 L1528.7,129.4 L1529.2,129.2 L1529.7,127.9 L1530.2,126.8 L1530.2,127.3 L1530.7,127.9 L1531.2,129.7 L1531.7,129.4 L1532.2,127.9 L1532.7,127.2 L1533.2,127.0 L1533.7,127.6 L1533.7,128.5 L1534.2,127.9 L1534.7,127.4 L1535.0,126.6 L1535.2,127.1 L1535.7,128.1 L1536.2,128.2 L1536.7,129.1 L1537.2,129.7 L1537.7,132.8 L1537.9,132.4 L1538.2,133.6 L1538.7,132.3 L1539.2,130.9 L1539.7,129.8 L1540.2,128.1 L1540.7,127.2 L1540.8,127.7 L1541.2,126.7 L1541.7,127.7 L1542.2,127.6 L1542.7,127.1 L1543.2,126.0 L1543.7,125.0 L1543.8,126.0 L1544.2,125.7 L1544.7,126.3 L1545.2,127.9 L1545.7,128.2 L1546.1,128.9 L1546.2,129.3 L1546.7,127.6 L1547.2,125.6 L1547.7,122.1 L1547.9,121.9 L1548.2,120.2 L1548.7,120.8 L1549.2,122.0 L1549.7,122.3 L1550.2,122.8 L1550.2,121.9 L1550.7,123.4 L1551.2,124.0 L1551.7,124.6 L1552.0,126.0 L1552.2,126.6 L1552.7,128.5 L1553.2,129.8 L1553.7,131.0 L1553.7,131.3 L1554.2,129.9 L1554.7,128.7 L1555.2,126.4 L1555.5,126.6 L1555.7,126.8 L1556.2,127.2 L1556.7,127.3 L1557.2,128.7 L1557.7,129.7 L1557.8,128.9 L1558.2,130.4 L1558.7,131.6 L1559.2,131.7 L1559.7,132.1 L1560.1,132.4 L1560.2,131.6 L1560.7,134.7 L1561.2,135.4 L1561.7,138.0 L1561.9,138.3 L1562.2,138.4 L1562.7,137.9 L1563.2,138.1 L1563.7,138.4 L1563.7,139.4 L1564.2,139.4 L1564.7,141.3 L1565.2,142.0 L1565.4,141.8 L1565.7,141.0 L1566.2,137.7 L1566.7,135.4 L1567.2,132.8 L1567.2,132.4 L1567.7,131.8 L1568.2,131.3 L1568.7,130.8 L1569.2,130.5 L1569.5,130.1 L1569.7,130.0 L1570.2,128.0 L1570.7,125.7 L1571.2,124.8 L1571.7,122.0 L1571.8,121.9 L1572.2,120.2 L1572.7,120.3 L1573.2,116.7 L1573.6,116.1 L1573.7,114.9 L1574.2,113.3 L1574.7,109.7 L1575.2,109.5 L1575.4,107.9 L1575.7,106.1 L1576.2,106.6 L1576.7,107.3 L1577.2,107.3 L1577.7,106.7 L1577.7,106.1 L1578.2,108.0 L1578.7,108.3 L1579.2,110.2 L1579.4,110.2 L1579.7,110.3 L1580.2,110.8 L1580.7,112.5 L1581.2,112.3 L1581.7,112.8 L1581.8,113.1 L1582.2,112.6 L1582.7,110.9 L1583.2,111.4 L1583.7,111.2 L1584.1,109.6 L1584.2,109.7 L1584.7,110.4 L1585.2,110.4 L1585.7,110.7 L1586.2,111.4 L1586.5,112.0 L1586.7,111.0 L1587.2,111.0 L1587.7,109.7 L1588.2,109.8 L1588.7,109.1 L1589.2,109.1 L1589.4,107.9 L1589.7,108.1 L1590.2,107.1 L1590.7,105.6 L1591.2,105.4 L1591.7,105.6 L1592.2,106.6 L1592.3,106.1 L1592.7,107.3 L1593.2,107.1 L1593.7,106.4 L1594.2,106.4 L1594.6,106.7 L1594.7,106.4 L1595.2,108.4 L1595.7,110.0 L1596.2,110.2 L1596.7,110.4 L1597.2,112.3 L1597.6,113.1 L1597.7,113.2 L1598.2,112.8 L1598.7,113.6 L1599.2,113.0 L1599.7,112.7 L1599.9,112.0 L1600.2,111.9 L1600.7,109.5 L1601.2,109.5 L1601.7,107.7 L1602.2,106.5 L1602.3,106.7 L1602.7,106.1 L1603.2,106.9 L1603.7,107.3 L1604.2,107.6 L1604.7,106.5 L1605.2,106.6 L1605.2,106.7 L1605.7,105.0 L1606.2,104.7 L1606.7,104.5 L1607.2,103.7 L1607.5,104.4 L1607.7,104.8 L1608.2,104.7 L1608.7,104.5 L1609.2,104.1 L1609.7,103.4 L1610.2,103.7 L1610.4,103.6 L1610.7,104.4 L1611.2,103.3 L1611.7,104.2 L1611.8,104.4 L1612.2,103.7 L1612.7,103.1 L1613.2,102.3 L1613.7,100.0 L1614.1,99.2 L1614.2,98.2 L1614.7,100.0 L1615.2,100.9 L1615.7,100.6 L1615.8,100.4 L1616.2,100.6 L1616.7,99.7 L1617.2,97.7 L1617.7,95.4 L1618.2,93.5 L1618.2,95.1 L1618.7,93.4 L1619.2,93.1 L1619.7,92.6 L1620.2,92.4 L1620.7,92.4 L1621.1,90.4 L1621.2,90.4 L1621.7,90.4 L1622.2,90.1 L1622.7,89.5 L1623.2,89.6 L1623.5,89.8 L1623.7,89.4 L1624.2,88.7 L1624.7,87.2 L1625.2,86.3 L1625.7,87.3 L1626.2,85.8 L1626.4,85.1 L1626.7,84.5 L1627.2,84.9 L1627.7,85.7 L1628.2,86.6 L1628.7,86.3 L1628.7,86.3 L1629.2,88.3 L1629.7,88.9 L1630.2,89.1 L1630.7,89.9 L1631.1,91.6 L1631.2,90.7 L1631.7,91.8 L1632.2,92.7 L1632.7,93.1 L1633.2,94.3 L1633.7,94.8 L1634.0,94.5 L1634.2,96.0 L1634.7,95.1 L1635.2,94.2 L1635.7,95.3 L1636.2,94.6 L1636.3,95.1 L1636.7,94.1 L1637.2,93.5 L1637.7,92.5 L1638.2,91.3 L1638.7,91.5 L1638.7,91.0 L1639.2,88.9 L1639.7,88.9 L1640.2,89.8 L1640.4,89.2 L1640.7,90.3 L1641.2,91.8 L1641.7,93.6 L1642.2,96.4 L1642.7,96.9 L1642.7,96.8 L1643.2,97.0 L1643.7,96.9 L1644.2,97.4 L1644.7,97.9 L1645.1,98.0 L1645.2,98.8 L1645.7,99.2 L1646.2,100.0 L1646.7,100.4 L1646.8,100.4 L1647.2,99.4 L1647.7,98.6 L1648.2,97.8 L1648.7,96.1 L1649.2,96.7 L1649.7,95.7 L1649.8,95.1 L1650.2,94.2 L1650.7,94.8 L1651.2,93.8 L1651.7,93.9 L1652.2,93.7 L1652.7,93.3 L1652.7,93.3 L1653.2,92.5 L1653.7,91.0 L1654.2,90.0 L1654.7,90.7 L1655.0,88.7 L1655.2,88.6 L1655.7,88.9 L1656.2,89.5 L1656.7,88.7 L1657.2,87.7 L1657.7,89.4 L1658.0,89.8 L1658.2,88.9 L1658.7,90.2 L1659.2,90.1 L1659.7,89.4 L1660.2,89.2 L1660.7,89.1 L1660.9,89.2 L1661.2,91.1 L1661.7,93.7 L1662.0,95.1 L1662.2,95.5 L1662.7,96.6 L1663.2,98.7 L1663.2,98.0 L1663.7,97.3 L1664.2,94.5 L1664.7,92.1 L1665.0,91.0 L1665.2,91.3 L1665.7,90.8 L1666.2,90.5 L1666.7,89.6 L1667.2,89.0 L1667.7,89.0 L1667.9,89.8 L1668.2,89.2 L1668.7,88.6 L1669.2,89.4 L1669.7,88.6 L1670.2,90.7 L1670.7,91.1 L1670.8,89.2 L1671.2,90.7 L1671.7,89.4 L1672.2,86.3 L1672.7,85.6 L1673.2,85.1 L1673.7,86.1 L1673.7,85.7 L1674.2,84.6 L1674.7,85.5 L1675.2,84.7 L1675.7,84.6 L1676.2,82.1 L1676.7,81.7 L1676.7,82.2 L1677.2,80.8 L1677.7,80.6 L1677.8,80.5 L1678.2,80.8 L1678.7,79.9 L1679.2,80.6 L1679.7,81.0 L1680.2,81.5 L1680.2,81.6 L1680.7,81.7 L1681.2,81.7 L1681.7,80.9 L1682.2,79.0 L1682.6,78.7 L1682.7,77.1 L1683.2,77.3 L1683.7,77.1 L1684.2,76.4 L1684.7,75.2 L1685.2,74.1 L1685.3,73.9 L1685.7,73.9 L1686.2,73.7 L1686.7,73.3 L1687.2,75.3 L1687.7,75.7 L1688.2,75.3 L1688.3,74.7 L1688.7,73.2 L1689.2,71.2 L1689.7,70.6 L1690.1,69.9 L1690.2,70.1 L1690.7,68.8 L1691.2,67.6 L1691.4,66.8 L1691.7,66.6 L1692.2,65.8 L1692.7,66.9 L1693.2,67.2 L1693.2,67.7 L1693.7,68.8 L1694.2,67.7 L1694.7,67.0 L1695.2,67.2 L1695.4,66.8" stroke="#DE8F05"/>
</g>
<line x1="49.8" y1="588.00" x2="1773.0" y2="588.00" stroke="#000" stroke-width="2" stroke-dasharray="7.7 3.34" stroke-dashoffset="0.84"/>
<rect x="57.4" y="47.6" width="282.2" height="51.6" rx="3.5" fill="#EAEAF2" fill-opacity="0.8" stroke="#CCCCCC" stroke-width="1"/>
<line x1="63.1" y1="59.8" x2="97.9" y2="59.8" stroke="#0173B2" stroke-width="2"/>
<line x1="63.1" y1="84.1" x2="97.9" y2="84.1" stroke="#DE8F05" stroke-width="2"/>
<g fill="#262626" style="will-change:transform"><text x="110.2" y="66.1" font-size="16.6">EMBI performance</text><text x="110.2" y="90.1" font-size="16.6">Naive PnL EMBI Performance</text><text transform="translate(35.4,593.20) scale(1,1.065)" font-size="14.6" text-anchor="end">0</text><text transform="translate(35.4,516.70) scale(1,1.065)" font-size="14.6" text-anchor="end">25</text><text transform="translate(35.4,438.70) scale(1,1.065)" font-size="14.6" text-anchor="end">50</text><text transform="translate(35.4,361.70) scale(1,1.065)" font-size="14.6" text-anchor="end">75</text><text transform="translate(35.4,283.70) scale(1,1.065)" font-size="14.6" text-anchor="end">100</text><text transform="translate(35.4,205.70) scale(1,1.065)" font-size="14.6" text-anchor="end">125</text><text transform="translate(35.4,128.70) scale(1,1.065)" font-size="14.6" text-anchor="end">150</text><text transform="translate(35.4,50.70) scale(1,1.065)" font-size="14.6" text-anchor="end">175</text><text transform="translate(249.5,671.1) scale(1,1.065)" font-size="14.6" text-anchor="middle">2004</text><text transform="translate(515.5,671.1) scale(1,1.065)" font-size="14.6" text-anchor="middle">2008</text><text transform="translate(781.5,671.1) scale(1,1.065)" font-size="14.6" text-anchor="middle">2012</text><text transform="translate(1047.5,671.1) scale(1,1.065)" font-size="14.6" text-anchor="middle">2016</text><text transform="translate(1312.5,671.1) scale(1,1.065)" font-size="14.6" text-anchor="middle">2020</text><text transform="translate(1578.5,671.1) scale(1,1.065)" font-size="14.6" text-anchor="middle">2024</text><text x="911.45" y="28.2" font-size="25" text-anchor="middle">EMBI performance (pure) vs naive PnL EMBI performance</text></g>
</svg>
</body></html>
